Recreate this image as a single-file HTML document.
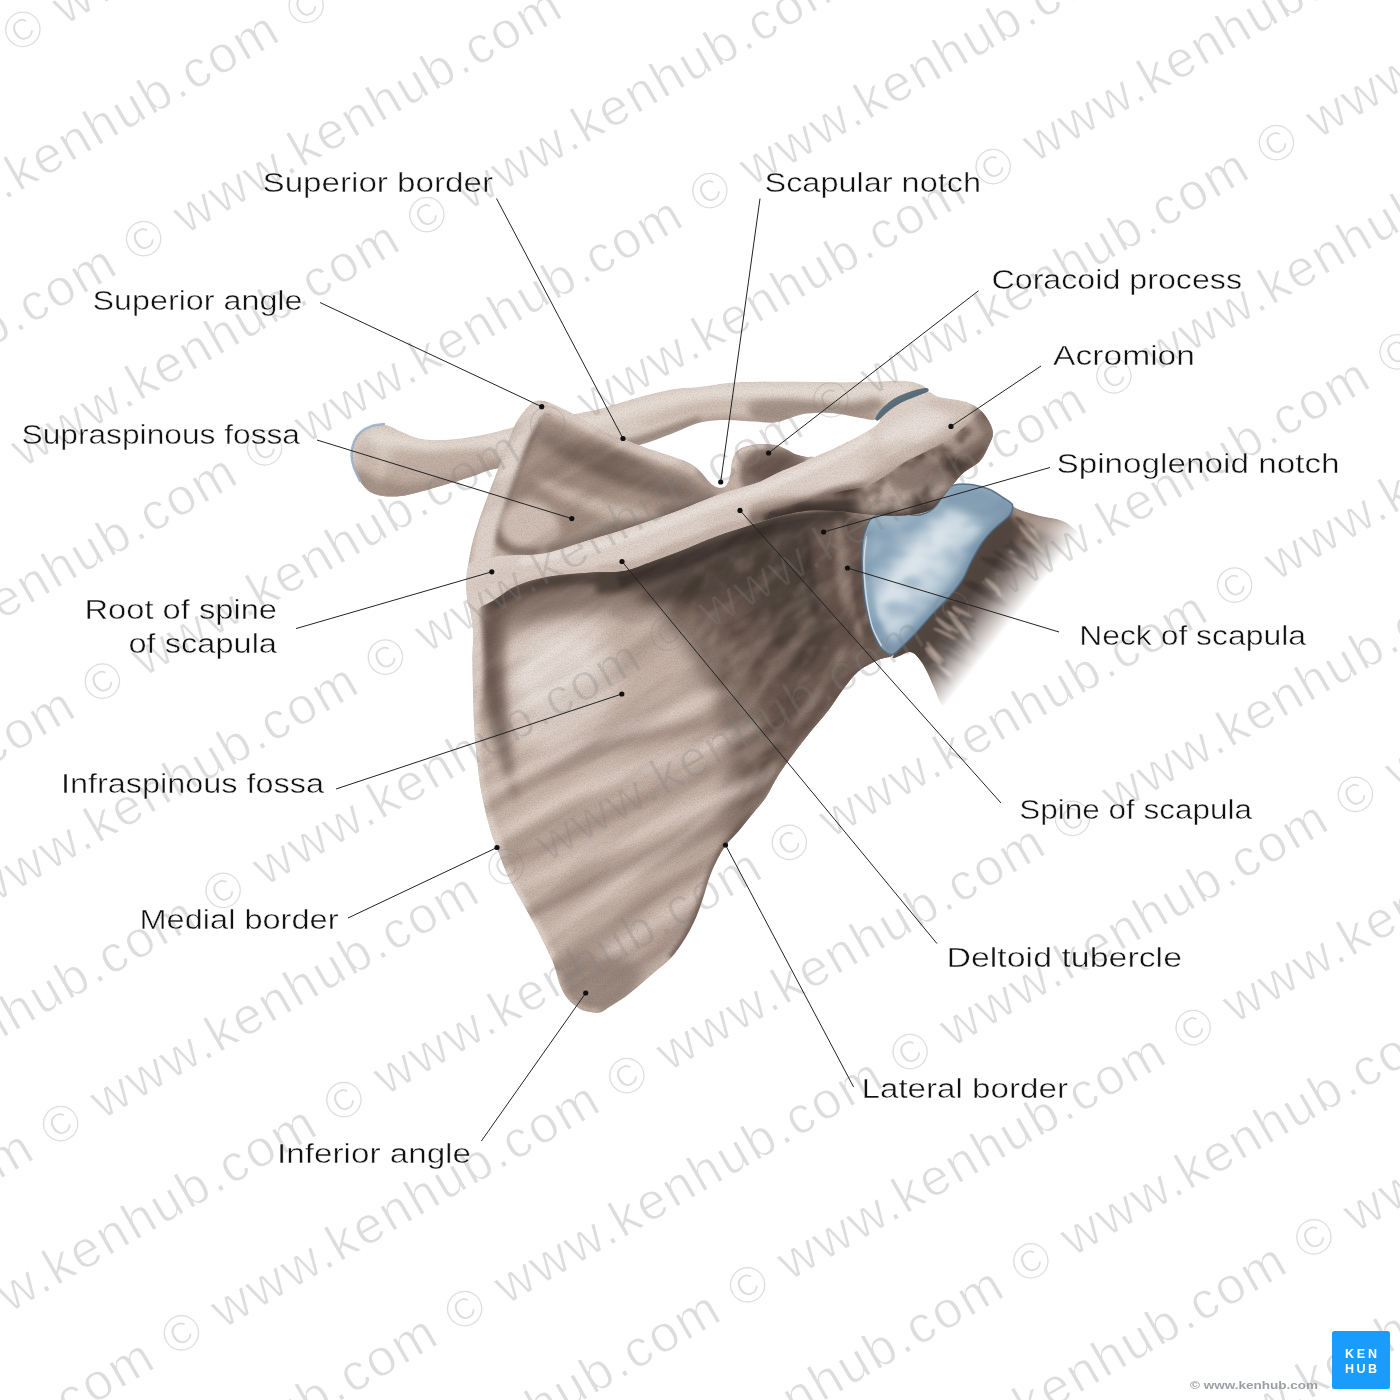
<!DOCTYPE html>
<html><head><meta charset="utf-8"><title>Scapula</title>
<style>html,body{margin:0;padding:0;background:#fff;}svg{display:block}</style></head>
<body><svg width="1400" height="1400" viewBox="0 0 1400 1400">
<rect width="1400" height="1400" fill="#fff"/>

<defs><filter id="b0_4" x="-50%" y="-50%" width="200%" height="200%"><feGaussianBlur stdDeviation="0.4"/></filter><filter id="b0_5" x="-50%" y="-50%" width="200%" height="200%"><feGaussianBlur stdDeviation="0.5"/></filter><filter id="b1" x="-50%" y="-50%" width="200%" height="200%"><feGaussianBlur stdDeviation="1.0"/></filter><filter id="b10" x="-50%" y="-50%" width="200%" height="200%"><feGaussianBlur stdDeviation="10.0"/></filter><filter id="b1_5" x="-50%" y="-50%" width="200%" height="200%"><feGaussianBlur stdDeviation="1.5"/></filter><filter id="b2" x="-50%" y="-50%" width="200%" height="200%"><feGaussianBlur stdDeviation="2.0"/></filter><filter id="b2_5" x="-50%" y="-50%" width="200%" height="200%"><feGaussianBlur stdDeviation="2.5"/></filter><filter id="b3" x="-50%" y="-50%" width="200%" height="200%"><feGaussianBlur stdDeviation="3.0"/></filter><filter id="b3_5" x="-50%" y="-50%" width="200%" height="200%"><feGaussianBlur stdDeviation="3.5"/></filter><filter id="b4" x="-50%" y="-50%" width="200%" height="200%"><feGaussianBlur stdDeviation="4.0"/></filter><filter id="b4_5" x="-50%" y="-50%" width="200%" height="200%"><feGaussianBlur stdDeviation="4.5"/></filter><filter id="b5" x="-50%" y="-50%" width="200%" height="200%"><feGaussianBlur stdDeviation="5.0"/></filter><filter id="b6" x="-50%" y="-50%" width="200%" height="200%"><feGaussianBlur stdDeviation="6.0"/></filter><filter id="b7" x="-50%" y="-50%" width="200%" height="200%"><feGaussianBlur stdDeviation="7.0"/></filter><filter id="b8" x="-50%" y="-50%" width="200%" height="200%"><feGaussianBlur stdDeviation="8.0"/></filter><filter id="b9" x="-50%" y="-50%" width="200%" height="200%"><feGaussianBlur stdDeviation="9.0"/></filter>
<filter id="grain" x="0" y="0" width="100%" height="100%" color-interpolation-filters="sRGB"><feTurbulence type="fractalNoise" baseFrequency="0.75" numOctaves="2" seed="7"/><feColorMatrix type="matrix" values="0 0 0 0 0.30  0 0 0 0 0.24  0 0 0 0 0.21  0.3 0 0 0 -0.115"/></filter>
<filter id="streakD" x="0" y="0" width="100%" height="100%" color-interpolation-filters="sRGB"><feTurbulence type="fractalNoise" baseFrequency="0.007 0.04" numOctaves="3" seed="11"/><feColorMatrix type="matrix" values="0 0 0 0 0.33  0 0 0 0 0.27  0 0 0 0 0.24  1.3 0 0 0 -0.58"/></filter>
<filter id="streakL" x="0" y="0" width="100%" height="100%" color-interpolation-filters="sRGB"><feTurbulence type="fractalNoise" baseFrequency="0.007 0.04" numOctaves="3" seed="23"/><feColorMatrix type="matrix" values="0 0 0 0 0.93  0 0 0 0 0.88  0 0 0 0 0.85  1.3 0 0 0 -0.58"/></filter>
<filter id="blotchD" x="0" y="0" width="100%" height="100%" color-interpolation-filters="sRGB"><feTurbulence type="fractalNoise" baseFrequency="0.032" numOctaves="3" seed="5"/><feColorMatrix type="matrix" values="0 0 0 0 0.30  0 0 0 0 0.25  0 0 0 0 0.22  3.2 0 0 0 -1.45"/><feGaussianBlur stdDeviation="0.8"/></filter>
<filter id="blotchL" x="0" y="0" width="100%" height="100%" color-interpolation-filters="sRGB"><feTurbulence type="fractalNoise" baseFrequency="0.04 0.07" numOctaves="3" seed="31"/><feColorMatrix type="matrix" values="0 0 0 0 0.72  0 0 0 0 0.65  0 0 0 0 0.61  3.0 0 0 0 -1.5"/><feGaussianBlur stdDeviation="1"/></filter>
<filter id="blotchB" x="0" y="0" width="100%" height="100%" color-interpolation-filters="sRGB"><feTurbulence type="fractalNoise" baseFrequency="0.03 0.05" numOctaves="2" seed="9"/><feColorMatrix type="matrix" values="0 0 0 0 0.50  0 0 0 0 0.60  0 0 0 0 0.69  2.5 0 0 0 -1.1"/><feGaussianBlur stdDeviation="1.5"/></filter>
<clipPath id="cAcrD"><path d="M770.0 512.0C774.7 509.3 796.8 503.3 808.0 500.0C819.2 496.7 827.3 494.3 837.0 492.0C846.7 489.7 858.0 488.7 866.0 486.0C874.0 483.3 878.5 480.0 885.0 476.0C891.5 472.0 898.3 466.0 905.0 462.0C911.7 458.0 917.5 456.0 925.0 452.0C932.5 448.0 941.7 443.7 950.0 438.0C958.3 432.3 968.7 423.0 975.0 418.0C981.3 413.0 984.3 405.5 988.0 408.0C991.7 410.5 996.7 426.3 997.0 433.0C997.3 439.7 992.8 443.3 990.0 448.0C987.2 452.7 984.5 456.8 980.0 461.0C975.5 465.2 967.8 468.7 963.0 473.0C958.2 477.3 955.3 481.8 951.0 487.0C946.7 492.2 940.5 500.2 937.0 504.0C933.5 507.8 933.5 508.3 930.0 510.0C926.5 511.7 921.7 513.0 915.7 514.0C909.7 515.0 902.3 515.7 894.0 515.7C885.7 515.7 875.2 514.8 865.7 514.0C856.2 513.2 846.5 511.6 837.0 511.0C827.5 510.4 818.1 509.7 808.6 510.5C799.1 511.3 786.4 515.8 780.0 516.0C773.6 516.2 765.3 514.7 770.0 512.0Z"/></clipPath>
<mask id="mDarkR" maskUnits="userSpaceOnUse" x="550" y="450" width="400" height="450"><path d="M660.0 590.0C663.3 579.2 693.3 568.3 710.0 560.0C726.7 551.7 735.0 545.3 760.0 540.0C785.0 534.7 840.8 518.0 860.0 528.0C879.2 538.0 870.8 579.7 875.0 600.0C879.2 620.3 889.2 635.8 885.0 650.0C880.8 664.2 860.8 672.5 850.0 685.0C839.2 697.5 829.2 711.7 820.0 725.0C810.8 738.3 803.3 752.5 795.0 765.0C786.7 777.5 777.8 791.7 770.0 800.0C762.2 808.3 753.3 816.7 748.0 815.0C742.7 813.3 739.3 800.8 738.0 790.0C736.7 779.2 743.0 768.3 740.0 750.0C737.0 731.7 728.3 700.8 720.0 680.0C711.7 659.2 700.0 640.0 690.0 625.0C680.0 610.0 656.7 600.8 660.0 590.0Z" fill="#fff" filter="url(#b10)"/></mask>
<filter id="blotchD2" x="0" y="0" width="100%" height="100%" color-interpolation-filters="sRGB"><feTurbulence type="fractalNoise" baseFrequency="0.02 0.055" numOctaves="3" seed="5"/><feColorMatrix type="matrix" values="0 0 0 0 0.30  0 0 0 0 0.25  0 0 0 0 0.22  3.0 0 0 0 -1.35"/><feGaussianBlur stdDeviation="1.5"/></filter>
<clipPath id="cAll"><path d="M540.7 400.5C543.2 400.6 546.0 401.4 549.0 402.5C552.0 403.6 553.4 404.3 558.6 406.8C563.8 409.3 572.9 413.6 580.0 417.5C587.1 421.4 593.8 426.4 601.0 430.0C608.2 433.6 614.7 435.7 623.0 439.0C631.3 442.3 642.7 446.6 651.0 449.6C659.3 452.6 667.0 454.7 673.0 456.8C679.0 458.9 682.8 460.0 687.0 462.0C691.2 464.0 694.8 466.3 698.0 469.0C701.2 471.7 703.7 475.4 706.0 478.0C708.3 480.6 710.0 482.9 712.0 484.5C714.0 486.1 716.0 487.1 718.0 487.5C720.0 487.9 722.3 487.9 724.0 487.0C725.7 486.1 726.9 484.2 728.0 482.0C729.1 479.8 729.9 476.8 730.5 474.0C731.1 471.2 731.1 467.7 731.5 465.0C731.9 462.3 732.1 460.3 733.0 458.0C733.9 455.7 734.8 453.0 737.0 451.0C739.2 449.0 742.4 447.4 746.4 446.2C750.4 445.0 755.9 444.2 760.7 444.0C765.5 443.8 770.8 444.0 775.0 444.8C779.2 445.6 782.1 447.4 785.7 449.0C789.3 450.6 792.9 453.3 796.4 454.6C799.9 455.9 803.4 456.4 807.0 457.0C810.6 457.6 809.2 455.8 818.0 458.0C826.8 460.2 846.3 466.3 860.0 470.0C873.7 473.7 886.7 476.3 900.0 480.0C913.3 483.7 932.5 485.3 940.0 492.0C947.5 498.7 946.7 507.8 945.0 520.0C943.3 532.2 935.5 549.7 930.0 565.0C924.5 580.3 917.3 599.2 912.0 612.0C906.7 624.8 901.2 634.8 898.0 642.0C894.8 649.2 895.3 652.3 893.0 655.0C890.7 657.7 886.8 657.0 884.0 658.0C881.2 659.0 880.2 658.8 876.0 661.0C871.8 663.2 864.0 666.4 858.6 671.0C853.2 675.6 848.6 682.1 843.6 688.6C838.6 695.1 834.0 702.9 828.6 710.0C823.2 717.1 816.8 723.8 811.0 731.0C805.2 738.2 799.3 745.8 794.0 753.0C788.7 760.2 783.7 766.7 779.0 774.0C774.3 781.3 770.2 790.7 766.0 797.0C761.8 803.3 758.6 806.3 754.0 812.0C749.4 817.7 743.3 825.5 738.6 831.0C733.9 836.5 729.6 840.2 726.0 845.0C722.4 849.8 719.7 854.8 717.0 860.0C714.3 865.2 712.2 870.2 710.0 876.0C707.8 881.8 706.2 888.5 704.0 895.0C701.8 901.5 700.0 908.0 697.0 915.0C694.0 922.0 690.3 929.8 686.0 937.0C681.7 944.2 676.2 952.2 671.0 958.0C665.8 963.8 660.2 967.5 655.0 972.0C649.8 976.5 645.0 980.8 640.0 985.0C635.0 989.2 629.8 993.5 625.0 997.0C620.2 1000.5 615.2 1003.4 611.0 1006.0C606.8 1008.6 603.5 1011.5 600.0 1012.5C596.5 1013.5 593.3 1012.6 590.0 1012.0C586.7 1011.4 583.7 1011.2 580.0 1009.0C576.3 1006.8 571.3 1003.0 568.0 999.0C564.7 995.0 562.3 990.7 560.0 985.0C557.7 979.3 556.5 971.7 554.0 965.0C551.5 958.3 548.8 952.8 545.0 945.0C541.2 937.2 535.7 926.7 531.0 918.0C526.3 909.3 521.0 900.3 517.0 893.0C513.0 885.7 510.3 881.5 507.0 874.0C503.7 866.5 499.8 855.5 497.0 848.0C494.2 840.5 492.7 838.7 490.0 829.0C487.3 819.3 483.3 803.2 481.0 790.0C478.7 776.8 477.2 761.2 476.0 750.0C474.8 738.8 474.5 733.0 474.0 723.0C473.5 713.0 473.2 700.7 473.0 690.0C472.8 679.3 472.5 669.0 472.5 659.0C472.5 649.0 473.6 639.7 473.0 630.0C472.4 620.3 469.9 610.5 469.0 601.0C468.1 591.5 467.2 581.8 467.5 573.0C467.8 564.2 469.2 556.3 471.0 548.0C472.8 539.7 475.3 531.3 478.0 523.0C480.7 514.7 483.7 507.0 487.0 498.0C490.3 489.0 494.4 478.5 498.0 469.0C501.6 459.5 505.6 448.7 508.6 441.0C511.6 433.3 513.1 428.3 516.0 423.0C518.9 417.7 523.0 412.5 526.0 409.0C529.0 405.5 531.5 403.4 534.0 402.0C536.5 400.6 538.2 400.4 540.7 400.5Z"/><path d="M356.0 436.0C358.3 432.8 362.7 431.2 366.0 429.5C369.3 427.8 373.0 426.3 376.0 425.5C379.0 424.7 381.3 424.2 384.0 424.5C386.7 424.8 389.3 425.9 392.0 427.0C394.7 428.1 395.5 429.1 400.0 431.0C404.5 432.9 412.8 437.0 419.0 438.5C425.2 440.0 431.0 439.9 437.0 440.0C443.0 440.1 449.0 439.6 455.0 439.0C461.0 438.4 467.0 437.5 473.0 436.5C479.0 435.5 484.8 434.4 491.0 433.0C497.2 431.6 501.8 430.2 510.0 428.0C518.2 425.8 528.3 422.5 540.0 420.0C551.7 417.5 569.8 414.9 580.0 413.0C590.2 411.1 591.7 411.1 601.0 408.6C610.3 406.1 624.3 401.2 636.0 398.0C647.7 394.8 660.3 391.4 671.0 389.5C681.7 387.6 689.2 388.0 700.0 386.8C710.8 385.6 720.9 383.2 735.7 382.3C750.5 381.4 771.1 381.4 789.0 381.4C806.9 381.4 828.1 382.3 843.0 382.3C857.9 382.3 868.3 381.6 878.6 381.4C888.9 381.2 898.2 380.6 905.0 381.0C911.8 381.4 916.0 382.6 919.6 384.0C923.2 385.4 927.7 388.0 926.8 389.5C925.9 391.0 919.1 391.2 914.0 393.0C908.9 394.8 901.4 397.2 896.4 400.0C891.4 402.8 887.4 406.8 884.0 410.0C880.6 413.2 879.8 418.2 876.0 419.5C872.2 420.8 866.5 418.8 861.0 418.0C855.5 417.2 849.0 415.4 843.0 414.5C837.0 413.6 831.0 412.8 825.0 412.7C819.0 412.6 812.3 412.9 807.0 413.6C801.7 414.3 798.3 415.5 793.0 417.0C787.7 418.5 781.5 421.7 775.0 422.5C768.5 423.3 762.0 422.0 754.0 421.6C746.0 421.2 736.0 419.9 727.0 420.0C718.0 420.1 709.3 420.2 700.0 422.5C690.7 424.8 680.5 430.4 671.0 434.0C661.5 437.6 654.8 440.5 643.0 444.0C631.2 447.5 617.2 452.0 600.0 455.0C582.8 458.0 557.7 459.7 540.0 462.0C522.3 464.3 505.2 466.7 494.0 469.0C482.8 471.3 482.5 473.0 473.0 476.0C463.5 479.0 449.0 483.7 437.0 487.0C425.0 490.3 411.2 494.8 401.0 496.0C390.8 497.2 382.5 496.5 376.0 494.5C369.5 492.5 365.8 489.1 362.0 484.0C358.2 478.9 354.7 469.8 353.0 464.0C351.3 458.2 351.5 453.7 352.0 449.0C352.5 444.3 353.7 439.2 356.0 436.0Z"/></clipPath>

<clipPath id="cBody"><path d="M540.7 400.5C543.2 400.6 546.0 401.4 549.0 402.5C552.0 403.6 553.4 404.3 558.6 406.8C563.8 409.3 572.9 413.6 580.0 417.5C587.1 421.4 593.8 426.4 601.0 430.0C608.2 433.6 614.7 435.7 623.0 439.0C631.3 442.3 642.7 446.6 651.0 449.6C659.3 452.6 667.0 454.7 673.0 456.8C679.0 458.9 682.8 460.0 687.0 462.0C691.2 464.0 694.8 466.3 698.0 469.0C701.2 471.7 703.7 475.4 706.0 478.0C708.3 480.6 710.0 482.9 712.0 484.5C714.0 486.1 716.0 487.1 718.0 487.5C720.0 487.9 722.3 487.9 724.0 487.0C725.7 486.1 726.9 484.2 728.0 482.0C729.1 479.8 729.9 476.8 730.5 474.0C731.1 471.2 731.1 467.7 731.5 465.0C731.9 462.3 732.1 460.3 733.0 458.0C733.9 455.7 734.8 453.0 737.0 451.0C739.2 449.0 742.4 447.4 746.4 446.2C750.4 445.0 755.9 444.2 760.7 444.0C765.5 443.8 770.8 444.0 775.0 444.8C779.2 445.6 782.1 447.4 785.7 449.0C789.3 450.6 792.9 453.3 796.4 454.6C799.9 455.9 803.4 456.4 807.0 457.0C810.6 457.6 809.2 455.8 818.0 458.0C826.8 460.2 846.3 466.3 860.0 470.0C873.7 473.7 886.7 476.3 900.0 480.0C913.3 483.7 932.5 485.3 940.0 492.0C947.5 498.7 946.7 507.8 945.0 520.0C943.3 532.2 935.5 549.7 930.0 565.0C924.5 580.3 917.3 599.2 912.0 612.0C906.7 624.8 901.2 634.8 898.0 642.0C894.8 649.2 895.3 652.3 893.0 655.0C890.7 657.7 886.8 657.0 884.0 658.0C881.2 659.0 880.2 658.8 876.0 661.0C871.8 663.2 864.0 666.4 858.6 671.0C853.2 675.6 848.6 682.1 843.6 688.6C838.6 695.1 834.0 702.9 828.6 710.0C823.2 717.1 816.8 723.8 811.0 731.0C805.2 738.2 799.3 745.8 794.0 753.0C788.7 760.2 783.7 766.7 779.0 774.0C774.3 781.3 770.2 790.7 766.0 797.0C761.8 803.3 758.6 806.3 754.0 812.0C749.4 817.7 743.3 825.5 738.6 831.0C733.9 836.5 729.6 840.2 726.0 845.0C722.4 849.8 719.7 854.8 717.0 860.0C714.3 865.2 712.2 870.2 710.0 876.0C707.8 881.8 706.2 888.5 704.0 895.0C701.8 901.5 700.0 908.0 697.0 915.0C694.0 922.0 690.3 929.8 686.0 937.0C681.7 944.2 676.2 952.2 671.0 958.0C665.8 963.8 660.2 967.5 655.0 972.0C649.8 976.5 645.0 980.8 640.0 985.0C635.0 989.2 629.8 993.5 625.0 997.0C620.2 1000.5 615.2 1003.4 611.0 1006.0C606.8 1008.6 603.5 1011.5 600.0 1012.5C596.5 1013.5 593.3 1012.6 590.0 1012.0C586.7 1011.4 583.7 1011.2 580.0 1009.0C576.3 1006.8 571.3 1003.0 568.0 999.0C564.7 995.0 562.3 990.7 560.0 985.0C557.7 979.3 556.5 971.7 554.0 965.0C551.5 958.3 548.8 952.8 545.0 945.0C541.2 937.2 535.7 926.7 531.0 918.0C526.3 909.3 521.0 900.3 517.0 893.0C513.0 885.7 510.3 881.5 507.0 874.0C503.7 866.5 499.8 855.5 497.0 848.0C494.2 840.5 492.7 838.7 490.0 829.0C487.3 819.3 483.3 803.2 481.0 790.0C478.7 776.8 477.2 761.2 476.0 750.0C474.8 738.8 474.5 733.0 474.0 723.0C473.5 713.0 473.2 700.7 473.0 690.0C472.8 679.3 472.5 669.0 472.5 659.0C472.5 649.0 473.6 639.7 473.0 630.0C472.4 620.3 469.9 610.5 469.0 601.0C468.1 591.5 467.2 581.8 467.5 573.0C467.8 564.2 469.2 556.3 471.0 548.0C472.8 539.7 475.3 531.3 478.0 523.0C480.7 514.7 483.7 507.0 487.0 498.0C490.3 489.0 494.4 478.5 498.0 469.0C501.6 459.5 505.6 448.7 508.6 441.0C511.6 433.3 513.1 428.3 516.0 423.0C518.9 417.7 523.0 412.5 526.0 409.0C529.0 405.5 531.5 403.4 534.0 402.0C536.5 400.6 538.2 400.4 540.7 400.5Z"/></clipPath>
<clipPath id="cSpine"><path d="M468.0 566.0C471.5 557.5 482.0 558.8 490.0 557.0C498.0 555.2 506.7 555.7 516.0 555.0C525.3 554.3 533.9 555.5 546.0 553.0C558.1 550.5 574.4 544.3 588.6 540.0C602.8 535.7 616.8 531.7 631.0 527.0C645.2 522.3 659.7 517.3 674.0 512.0C688.3 506.7 705.5 499.2 717.0 495.0C728.5 490.8 735.8 489.2 743.0 487.0C750.2 484.8 754.0 484.0 760.0 481.5C766.0 479.0 773.0 474.8 779.0 472.0C785.0 469.2 790.2 467.5 796.0 465.0C801.8 462.5 807.4 459.9 814.0 457.0C820.6 454.1 827.9 451.2 835.7 447.5C843.5 443.8 854.2 438.6 860.7 435.0C867.2 431.4 871.8 428.4 875.0 426.0C878.2 423.6 879.7 422.3 880.0 420.7C880.3 419.1 875.3 418.9 877.0 416.4C878.7 413.9 885.0 409.1 890.0 405.7C895.0 402.3 901.0 398.5 907.0 396.0C913.0 393.5 920.7 390.5 926.0 390.7C931.3 390.9 932.8 395.3 939.0 397.0C945.2 398.7 956.5 399.2 963.0 401.0C969.5 402.8 973.7 404.7 978.0 408.0C982.3 411.3 986.1 416.4 988.6 420.7C991.1 425.0 993.0 429.4 993.0 433.6C993.0 437.8 990.8 441.4 988.6 446.0C986.4 450.6 984.3 456.5 980.0 461.0C975.7 465.5 967.8 468.7 963.0 473.0C958.2 477.3 955.3 481.8 951.0 487.0C946.7 492.2 940.5 500.2 937.0 504.0C933.5 507.8 933.5 508.3 930.0 510.0C926.5 511.7 921.7 513.0 915.7 514.0C909.7 515.0 902.3 515.7 894.0 515.7C885.7 515.7 875.2 514.8 865.7 514.0C856.2 513.2 846.5 511.6 837.0 511.0C827.5 510.4 818.1 509.7 808.6 510.5C799.1 511.3 788.1 514.1 780.0 516.0C771.9 517.9 770.5 518.7 760.0 522.0C749.5 525.3 729.5 531.5 717.0 536.0C704.5 540.5 695.7 544.8 685.0 549.0C674.3 553.2 663.3 557.3 653.0 561.0C642.7 564.7 633.7 569.1 623.0 571.0C612.3 572.9 601.8 571.5 589.0 572.5C576.2 573.5 558.2 574.8 546.0 577.0C533.8 579.2 523.7 582.8 516.0 586.0C508.3 589.2 504.8 593.0 500.0 596.0C495.2 599.0 492.2 602.0 487.0 604.0C481.8 606.0 472.2 614.3 469.0 608.0C465.8 601.7 464.5 574.5 468.0 566.0Z"/></clipPath>
<clipPath id="cGlen"><path d="M863.0 540.0C863.8 534.0 865.5 529.7 867.0 526.0C868.5 522.3 868.9 520.2 872.0 518.0C875.1 515.8 880.2 513.7 885.7 513.0C891.2 512.3 899.3 513.7 905.0 514.0C910.7 514.3 915.3 515.8 920.0 515.0C924.7 514.2 929.7 511.5 933.0 509.0C936.3 506.5 937.9 503.0 940.0 500.0C942.1 497.0 943.4 493.5 945.7 491.0C948.0 488.5 949.8 486.1 954.0 485.0C958.2 483.9 965.2 483.8 971.0 484.5C976.8 485.2 983.2 486.8 988.6 489.0C994.0 491.2 999.7 495.5 1003.6 498.0C1007.5 500.5 1010.6 501.8 1012.0 504.0C1013.4 506.2 1012.7 508.8 1012.0 511.0C1011.3 513.2 1011.2 513.8 1008.0 517.0C1004.8 520.2 997.3 525.7 993.0 530.0C988.7 534.3 985.7 537.7 982.0 543.0C978.3 548.3 974.2 556.0 971.0 562.0C967.8 568.0 966.5 573.3 963.0 579.0C959.5 584.7 955.0 590.2 950.0 596.0C945.0 601.8 938.7 607.4 933.0 613.6C927.3 619.8 920.7 627.6 915.7 633.0C910.7 638.4 907.0 642.1 903.0 645.7C899.0 649.3 895.7 654.1 892.0 654.5C888.3 654.9 883.8 650.9 881.0 648.0C878.2 645.1 876.7 640.7 875.0 637.0C873.3 633.3 872.2 631.0 870.7 626.0C869.2 621.0 867.1 612.3 866.0 607.0C864.9 601.7 864.7 601.5 864.0 594.0C863.3 586.5 862.2 571.0 862.0 562.0C861.8 553.0 862.2 546.0 863.0 540.0Z"/></clipPath>
<clipPath id="cClav"><path d="M356.0 436.0C358.3 432.8 362.7 431.2 366.0 429.5C369.3 427.8 373.0 426.3 376.0 425.5C379.0 424.7 381.3 424.2 384.0 424.5C386.7 424.8 389.3 425.9 392.0 427.0C394.7 428.1 395.5 429.1 400.0 431.0C404.5 432.9 412.8 437.0 419.0 438.5C425.2 440.0 431.0 439.9 437.0 440.0C443.0 440.1 449.0 439.6 455.0 439.0C461.0 438.4 467.0 437.5 473.0 436.5C479.0 435.5 484.8 434.4 491.0 433.0C497.2 431.6 501.8 430.2 510.0 428.0C518.2 425.8 528.3 422.5 540.0 420.0C551.7 417.5 569.8 414.9 580.0 413.0C590.2 411.1 591.7 411.1 601.0 408.6C610.3 406.1 624.3 401.2 636.0 398.0C647.7 394.8 660.3 391.4 671.0 389.5C681.7 387.6 689.2 388.0 700.0 386.8C710.8 385.6 720.9 383.2 735.7 382.3C750.5 381.4 771.1 381.4 789.0 381.4C806.9 381.4 828.1 382.3 843.0 382.3C857.9 382.3 868.3 381.6 878.6 381.4C888.9 381.2 898.2 380.6 905.0 381.0C911.8 381.4 916.0 382.6 919.6 384.0C923.2 385.4 927.7 388.0 926.8 389.5C925.9 391.0 919.1 391.2 914.0 393.0C908.9 394.8 901.4 397.2 896.4 400.0C891.4 402.8 887.4 406.8 884.0 410.0C880.6 413.2 879.8 418.2 876.0 419.5C872.2 420.8 866.5 418.8 861.0 418.0C855.5 417.2 849.0 415.4 843.0 414.5C837.0 413.6 831.0 412.8 825.0 412.7C819.0 412.6 812.3 412.9 807.0 413.6C801.7 414.3 798.3 415.5 793.0 417.0C787.7 418.5 781.5 421.7 775.0 422.5C768.5 423.3 762.0 422.0 754.0 421.6C746.0 421.2 736.0 419.9 727.0 420.0C718.0 420.1 709.3 420.2 700.0 422.5C690.7 424.8 680.5 430.4 671.0 434.0C661.5 437.6 654.8 440.5 643.0 444.0C631.2 447.5 617.2 452.0 600.0 455.0C582.8 458.0 557.7 459.7 540.0 462.0C522.3 464.3 505.2 466.7 494.0 469.0C482.8 471.3 482.5 473.0 473.0 476.0C463.5 479.0 449.0 483.7 437.0 487.0C425.0 490.3 411.2 494.8 401.0 496.0C390.8 497.2 382.5 496.5 376.0 494.5C369.5 492.5 365.8 489.1 362.0 484.0C358.2 478.9 354.7 469.8 353.0 464.0C351.3 458.2 351.5 453.7 352.0 449.0C352.5 444.3 353.7 439.2 356.0 436.0Z"/></clipPath>
<clipPath id="cStub"><path d="M1005.0 501.0C1008.5 497.7 1008.5 503.5 1011.0 505.0C1013.5 506.5 1015.2 508.2 1020.0 510.0C1024.8 511.8 1033.3 514.3 1040.0 516.0C1046.7 517.7 1054.7 518.2 1060.0 520.0C1065.3 521.8 1067.7 523.3 1072.0 527.0C1076.3 530.7 1083.7 536.2 1086.0 542.0C1088.3 547.8 1089.3 553.7 1086.0 562.0C1082.7 570.3 1072.7 583.0 1066.0 592.0C1059.3 601.0 1053.0 607.7 1046.0 616.0C1039.0 624.3 1031.0 634.3 1024.0 642.0C1017.0 649.7 1011.0 655.3 1004.0 662.0C997.0 668.7 989.0 676.0 982.0 682.0C975.0 688.0 968.3 694.0 962.0 698.0C955.7 702.0 948.7 707.7 944.0 706.0C939.3 704.3 936.7 693.3 934.0 688.0C931.3 682.7 930.3 678.7 928.0 674.0C925.7 669.3 923.0 663.7 920.0 660.0C917.0 656.3 914.5 652.7 910.0 652.0C905.5 651.3 889.7 663.0 893.0 656.0C896.3 649.0 918.2 625.2 930.0 610.0C941.8 594.8 954.0 579.2 964.0 565.0C974.0 550.8 983.2 535.7 990.0 525.0C996.8 514.3 1001.5 504.3 1005.0 501.0Z"/></clipPath>
<linearGradient id="gStub" gradientUnits="userSpaceOnUse" x1="955" y1="580" x2="1010" y2="623">
 <stop offset="0" stop-color="#fff" stop-opacity="1"/><stop offset="0.3" stop-color="#fff" stop-opacity="1"/><stop offset="0.55" stop-color="#fff" stop-opacity="0.8"/><stop offset="0.8" stop-color="#fff" stop-opacity="0.35"/><stop offset="1" stop-color="#fff" stop-opacity="0"/></linearGradient>
<mask id="mStub"><rect x="800" y="400" width="400" height="400" fill="url(#gStub)"/></mask>
<linearGradient id="gGlen" gradientUnits="userSpaceOnUse" x1="880" y1="520" x2="990" y2="600">
 <stop offset="0" stop-color="#8ea6b8"/><stop offset="0.45" stop-color="#b7c7d3"/><stop offset="1" stop-color="#7f9aae"/></linearGradient>
<filter id="thin" x="-5%" y="-5%" width="110%" height="110%"><feMorphology operator="erode" radius="0.6"/></filter><filter id="curve" x="300" y="350" width="850" height="720" filterUnits="userSpaceOnUse" color-interpolation-filters="sRGB"><feComponentTransfer><feFuncR type="table" tableValues="0 0.14 0.33 0.56 0.80 1"/><feFuncG type="table" tableValues="0 0.14 0.33 0.56 0.80 1"/><feFuncB type="table" tableValues="0 0.14 0.33 0.56 0.80 1"/></feComponentTransfer></filter></defs>

<g filter="url(#curve)"><g mask="url(#mStub)"><g clip-path="url(#cStub)">
<path d="M1005.0 501.0C1008.5 497.7 1008.5 503.5 1011.0 505.0C1013.5 506.5 1015.2 508.2 1020.0 510.0C1024.8 511.8 1033.3 514.3 1040.0 516.0C1046.7 517.7 1054.7 518.2 1060.0 520.0C1065.3 521.8 1067.7 523.3 1072.0 527.0C1076.3 530.7 1083.7 536.2 1086.0 542.0C1088.3 547.8 1089.3 553.7 1086.0 562.0C1082.7 570.3 1072.7 583.0 1066.0 592.0C1059.3 601.0 1053.0 607.7 1046.0 616.0C1039.0 624.3 1031.0 634.3 1024.0 642.0C1017.0 649.7 1011.0 655.3 1004.0 662.0C997.0 668.7 989.0 676.0 982.0 682.0C975.0 688.0 968.3 694.0 962.0 698.0C955.7 702.0 948.7 707.7 944.0 706.0C939.3 704.3 936.7 693.3 934.0 688.0C931.3 682.7 930.3 678.7 928.0 674.0C925.7 669.3 923.0 663.7 920.0 660.0C917.0 656.3 914.5 652.7 910.0 652.0C905.5 651.3 889.7 663.0 893.0 656.0C896.3 649.0 918.2 625.2 930.0 610.0C941.8 594.8 954.0 579.2 964.0 565.0C974.0 550.8 983.2 535.7 990.0 525.0C996.8 514.3 1001.5 504.3 1005.0 501.0Z" fill="#7c6d65" opacity="1.00"/>
<path d="M893.0 656.0C893.5 645.5 916.5 627.0 928.0 612.0C939.5 597.0 951.3 581.0 962.0 566.0C972.7 551.0 983.7 531.0 992.0 522.0C1000.3 513.0 1007.3 510.7 1012.0 512.0C1016.7 513.3 1022.8 518.7 1020.0 530.0C1017.2 541.3 1004.2 563.7 995.0 580.0C985.8 596.3 974.2 613.3 965.0 628.0C955.8 642.7 946.7 660.2 940.0 668.0C933.3 675.8 932.8 677.0 925.0 675.0C917.2 673.0 892.5 666.5 893.0 656.0Z" fill="#61544e" filter="url(#b6)" opacity="0.90"/>
<path d="M1008.0 503.0C1011.0 501.0 1030.0 510.5 1040.0 514.0C1050.0 517.5 1061.7 519.7 1068.0 524.0C1074.3 528.3 1080.7 538.0 1078.0 540.0C1075.3 542.0 1061.3 538.3 1052.0 536.0C1042.7 533.7 1029.3 531.5 1022.0 526.0C1014.7 520.5 1005.0 505.0 1008.0 503.0Z" fill="#ab9b93" filter="url(#b3)" opacity="0.95"/>
<path d="M945.5 610.9L946.2 611.8L947.3 612.6L948.6 613.4L950.1 614.2L951.7 615.0L953.4 615.9L955.1 616.8L956.8 617.6L958.5 618.4L960.1 619.2L961.6 620.0L963.3 620.8L965.0 621.6L966.8 622.5L968.6 623.3L970.3 624.1L971.9 624.7L973.3 625.3L974.6 625.7L975.7 625.7L975.7 625.7L975.1 624.7L974.1 623.9L972.8 623.0L971.4 622.0L969.8 621.0L968.1 620.0L966.4 619.0L964.7 618.0L963.0 617.1L961.5 616.3L959.9 615.6L958.1 614.8L956.3 614.1L954.5 613.3L952.7 612.7L951.0 612.1L949.4 611.5L947.9 611.1L946.6 610.9L945.5 610.9Z" fill="#c6b7ae" filter="url(#b1)" opacity="0.60"/>
<path d="M963.2 581.8L963.4 583.0L964.0 583.9L964.7 584.7L965.7 585.6L966.7 586.4L967.9 587.3L969.1 588.1L970.4 588.9L971.7 589.7L973.1 590.4L974.5 591.0L976.1 591.7L977.7 592.3L979.5 592.9L981.3 593.5L983.0 594.0L984.6 594.4L986.2 594.7L987.5 594.7L988.8 594.2L988.8 594.2L988.3 592.9L987.3 592.0L986.1 591.0L984.7 590.1L983.2 589.1L981.6 588.2L980.0 587.3L978.4 586.5L977.0 585.7L975.6 585.1L974.4 584.4L973.0 583.8L971.7 583.3L970.3 582.7L969.0 582.2L967.7 581.8L966.5 581.5L965.4 581.3L964.3 581.3L963.2 581.8Z" fill="#4d423d" filter="url(#b1)" opacity="0.60"/>
<path d="M925.1 641.8L924.9 643.2L925.4 644.5L926.0 645.9L926.9 647.4L927.8 648.9L928.9 650.5L930.0 652.0L931.1 653.5L932.2 654.9L933.3 656.3L934.4 657.6L935.5 659.0L936.8 660.4L938.1 661.8L939.4 663.2L940.7 664.5L942.0 665.7L943.2 666.6L944.4 667.4L945.9 667.5L945.9 667.5L946.1 666.1L945.8 664.8L945.2 663.3L944.5 661.7L943.6 660.1L942.6 658.4L941.5 656.8L940.5 655.2L939.4 653.6L938.3 652.2L937.1 650.9L935.9 649.5L934.6 648.1L933.2 646.8L931.8 645.5L930.4 644.3L929.0 643.3L927.8 642.4L926.5 641.8L925.1 641.8Z" fill="#4d423d" filter="url(#b1)" opacity="0.60"/>
<path d="M930.6 664.2L930.7 665.4L931.1 666.2L931.7 667.0L932.5 667.7L933.4 668.5L934.4 669.2L935.4 670.0L936.5 670.7L937.6 671.3L938.7 671.9L939.9 672.6L941.2 673.2L942.7 673.9L944.2 674.5L945.8 675.1L947.3 675.6L948.8 676.1L950.1 676.3L951.4 676.4L952.6 676.0L952.6 676.0L952.3 674.7L951.5 673.8L950.5 672.8L949.3 671.9L948.0 670.9L946.6 669.9L945.3 669.0L943.9 668.2L942.6 667.4L941.4 666.8L940.3 666.2L939.1 665.7L938.0 665.1L936.8 664.7L935.6 664.3L934.5 664.0L933.5 663.8L932.5 663.6L931.6 663.7L930.6 664.2Z" fill="#c6b7ae" filter="url(#b1)" opacity="0.60"/>
<path d="M939.2 639.6L939.8 640.5L940.8 641.3L941.9 642.1L943.3 643.0L944.7 643.9L946.3 644.8L947.8 645.8L949.4 646.8L950.8 647.7L952.2 648.6L953.6 649.6L955.1 650.7L956.7 651.9L958.3 653.2L959.9 654.4L961.5 655.6L963.0 656.6L964.3 657.5L965.5 658.2L966.7 658.5L966.7 658.5L966.2 657.4L965.4 656.3L964.3 655.1L963.0 653.8L961.6 652.4L960.1 651.0L958.6 649.6L957.1 648.3L955.5 647.1L954.1 646.0L952.6 645.0L951.0 644.1L949.3 643.2L947.6 642.4L945.9 641.6L944.3 640.9L942.8 640.3L941.5 639.9L940.3 639.6L939.2 639.6Z" fill="#4d423d" filter="url(#b1)" opacity="0.60"/>
<path d="M944.2 637.6L944.6 638.6L945.3 639.4L946.3 640.3L947.5 641.3L948.7 642.2L950.0 643.2L951.4 644.2L952.7 645.1L954.1 646.0L955.3 646.8L956.5 647.6L957.8 648.4L959.2 649.2L960.6 650.0L962.0 650.8L963.3 651.6L964.6 652.2L965.8 652.7L966.8 653.0L967.9 652.9L967.9 652.9L967.6 651.9L966.9 651.0L966.0 650.1L965.0 649.1L963.8 648.1L962.6 647.1L961.3 646.1L960.0 645.1L958.7 644.2L957.5 643.4L956.2 642.6L954.8 641.8L953.4 640.9L951.9 640.2L950.4 639.4L949.0 638.8L947.6 638.2L946.4 637.7L945.3 637.4L944.2 637.6Z" fill="#4d423d" filter="url(#b1)" opacity="0.60"/>
<path d="M1009.3 550.8L1009.2 552.0L1009.6 553.1L1010.1 554.2L1010.9 555.4L1011.7 556.6L1012.7 557.8L1013.6 559.0L1014.7 560.2L1015.7 561.2L1016.7 562.2L1017.7 563.0L1018.9 563.7L1020.0 564.4L1021.2 565.1L1022.3 565.6L1023.5 566.1L1024.5 566.4L1025.5 566.6L1026.4 566.7L1027.5 566.3L1027.5 566.3L1027.5 565.2L1027.0 564.3L1026.4 563.5L1025.6 562.7L1024.8 561.8L1023.9 561.0L1023.0 560.2L1022.1 559.4L1021.2 558.6L1020.3 557.9L1019.4 557.2L1018.4 556.3L1017.3 555.4L1016.1 554.4L1015.0 553.5L1013.8 552.6L1012.7 551.8L1011.6 551.2L1010.5 550.7L1009.3 550.8Z" fill="#c6b7ae" filter="url(#b1)" opacity="0.60"/>
<path d="M959.8 630.6L960.0 631.6L960.6 632.3L961.4 633.0L962.3 633.6L963.3 634.3L964.3 634.9L965.3 635.5L966.2 636.2L967.1 636.7L967.9 637.3L968.6 637.8L969.4 638.5L970.3 639.2L971.2 640.0L972.1 640.7L973.1 641.4L973.9 642.1L974.8 642.6L975.7 642.9L976.7 642.9L976.7 642.9L976.8 641.9L976.6 641.0L976.1 640.1L975.6 639.1L975.0 638.1L974.2 637.1L973.4 636.1L972.5 635.1L971.6 634.2L970.6 633.5L969.6 632.8L968.5 632.2L967.3 631.6L966.1 631.2L964.9 630.8L963.7 630.5L962.6 630.3L961.6 630.2L960.7 630.2L959.8 630.6Z" fill="#4d423d" filter="url(#b1)" opacity="0.60"/>
<path d="M925.6 662.0L926.0 663.4L926.9 664.6L928.2 665.9L929.6 667.2L931.2 668.6L932.9 670.0L934.6 671.3L936.2 672.7L937.8 674.0L939.2 675.1L940.5 676.3L942.0 677.6L943.4 678.9L944.9 680.2L946.5 681.5L947.9 682.8L949.3 683.8L950.7 684.8L951.9 685.4L953.3 685.6L953.3 685.6L953.2 684.2L952.6 682.9L951.8 681.5L950.8 680.1L949.7 678.5L948.4 676.9L947.0 675.3L945.6 673.8L944.1 672.3L942.7 671.0L941.1 669.7L939.4 668.5L937.5 667.2L935.6 666.1L933.7 665.0L931.9 664.0L930.1 663.1L928.5 662.4L927.0 662.0L925.6 662.0Z" fill="#4d423d" filter="url(#b1)" opacity="0.60"/>
<path d="M984.7 578.3L984.8 579.6L985.4 580.8L986.3 582.0L987.3 583.3L988.5 584.6L989.7 585.9L990.9 587.3L992.1 588.5L993.2 589.7L994.2 590.8L995.1 591.8L996.1 592.9L997.0 594.1L998.0 595.2L999.0 596.3L1000.0 597.4L1001.0 598.3L1002.0 599.1L1002.9 599.7L1004.1 599.9L1004.1 599.9L1004.3 598.7L1004.1 597.6L1003.8 596.5L1003.2 595.2L1002.6 593.9L1001.9 592.5L1001.0 591.1L1000.1 589.7L999.2 588.4L998.1 587.2L997.0 586.0L995.7 584.8L994.3 583.6L992.9 582.5L991.4 581.4L989.9 580.4L988.5 579.5L987.2 578.8L986.0 578.3L984.7 578.3Z" fill="#c6b7ae" filter="url(#b1)" opacity="0.60"/>
<path d="M928.7 659.4L928.8 660.7L929.5 661.9L930.4 663.1L931.4 664.5L932.6 666.0L933.8 667.5L935.1 669.0L936.3 670.5L937.4 671.9L938.5 673.2L939.5 674.5L940.5 676.0L941.6 677.5L942.7 679.1L943.9 680.6L945.0 682.1L946.0 683.4L947.0 684.6L948.0 685.5L949.1 686.0L949.1 686.0L949.2 684.8L948.9 683.5L948.3 682.1L947.7 680.5L946.9 678.8L946.0 677.1L945.0 675.3L944.0 673.6L943.0 672.0L941.9 670.5L940.7 669.1L939.4 667.7L938.0 666.2L936.6 664.9L935.1 663.5L933.7 662.3L932.3 661.2L931.0 660.3L929.9 659.7L928.7 659.4Z" fill="#4d423d" filter="url(#b1)" opacity="0.60"/>
<path d="M980.6 557.7L980.9 558.8L981.5 559.6L982.4 560.4L983.3 561.1L984.4 561.8L985.5 562.6L986.8 563.3L988.0 564.0L989.2 564.7L990.5 565.4L991.8 566.1L993.3 566.9L995.0 567.8L996.7 568.7L998.4 569.6L1000.2 570.4L1001.8 571.1L1003.4 571.6L1004.8 571.9L1006.1 571.7L1006.1 571.7L1005.7 570.3L1004.9 569.2L1003.7 568.1L1002.4 566.9L1000.9 565.7L999.3 564.4L997.7 563.3L996.1 562.2L994.6 561.2L993.2 560.4L991.8 559.7L990.4 559.1L989.0 558.5L987.6 558.0L986.3 557.6L985.0 557.3L983.8 557.1L982.7 557.0L981.7 557.1L980.6 557.7Z" fill="#4d423d" filter="url(#b1)" opacity="0.60"/>
<path d="M926.2 641.4L926.0 642.5L926.2 643.4L926.5 644.5L927.0 645.7L927.6 646.9L928.3 648.2L929.0 649.5L929.9 650.8L930.8 652.0L931.7 653.1L932.8 654.3L933.9 655.4L935.2 656.6L936.6 657.8L938.0 658.9L939.3 659.9L940.7 660.8L941.9 661.5L943.0 662.0L944.2 662.0L944.2 662.0L944.1 660.8L943.6 659.7L942.8 658.5L941.8 657.3L940.7 656.0L939.6 654.6L938.5 653.3L937.4 652.1L936.3 650.9L935.4 649.9L934.6 648.9L933.7 647.8L932.7 646.8L931.8 645.7L930.9 644.7L930.0 643.7L929.1 642.8L928.2 642.1L927.3 641.5L926.2 641.4Z" fill="#c6b7ae" filter="url(#b1)" opacity="0.60"/>
<path d="M1021.7 539.7L1022.2 541.2L1023.2 542.3L1024.4 543.5L1025.9 544.7L1027.5 546.0L1029.2 547.3L1031.0 548.5L1032.8 549.8L1034.6 550.9L1036.2 552.0L1038.0 553.0L1039.8 554.2L1041.8 555.3L1043.9 556.4L1045.9 557.5L1047.9 558.5L1049.8 559.3L1051.5 560.0L1053.1 560.4L1054.6 560.2L1054.6 560.2L1054.2 558.7L1053.2 557.5L1051.8 556.1L1050.3 554.7L1048.6 553.3L1046.8 551.9L1044.9 550.5L1043.0 549.2L1041.2 547.9L1039.5 546.8L1037.7 545.8L1035.9 544.7L1033.9 543.7L1032.0 542.7L1030.0 541.8L1028.1 540.9L1026.3 540.2L1024.7 539.7L1023.2 539.4L1021.7 539.7Z" fill="#4d423d" filter="url(#b1)" opacity="0.60"/>
<path d="M1015.2 517.1L1015.3 518.1L1015.7 518.9L1016.2 519.7L1016.9 520.5L1017.7 521.3L1018.5 522.1L1019.5 522.8L1020.4 523.6L1021.4 524.3L1022.5 524.9L1023.5 525.5L1024.7 526.1L1026.0 526.7L1027.3 527.2L1028.6 527.7L1029.9 528.2L1031.2 528.5L1032.3 528.8L1033.3 528.8L1034.4 528.4L1034.4 528.4L1034.1 527.4L1033.5 526.5L1032.6 525.7L1031.6 524.9L1030.5 524.1L1029.4 523.3L1028.2 522.5L1027.1 521.8L1026.0 521.1L1025.0 520.5L1024.1 520.0L1023.1 519.4L1022.1 518.9L1021.0 518.3L1020.0 517.9L1019.0 517.4L1018.0 517.1L1017.1 516.8L1016.2 516.8L1015.2 517.1Z" fill="#4d423d" filter="url(#b1)" opacity="0.60"/>
<path d="M935.6 617.4L935.7 618.7L936.3 619.8L937.1 621.0L938.2 622.3L939.3 623.6L940.6 624.9L941.9 626.2L943.2 627.4L944.6 628.5L945.8 629.4L947.2 630.3L948.5 631.0L949.9 631.7L951.4 632.3L952.8 632.8L954.1 633.2L955.4 633.6L956.6 633.7L957.6 633.8L958.7 633.3L958.7 633.3L958.4 632.2L957.7 631.3L956.9 630.5L955.9 629.7L954.8 628.9L953.6 628.1L952.4 627.3L951.2 626.5L950.0 625.7L948.9 625.0L947.8 624.2L946.5 623.2L945.1 622.3L943.7 621.2L942.2 620.3L940.8 619.3L939.4 618.5L938.1 617.8L936.8 617.3L935.6 617.4Z" fill="#c6b7ae" filter="url(#b1)" opacity="0.60"/>
<path d="M976.8 590.7L977.4 592.1L978.5 593.2L980.0 594.3L981.6 595.5L983.4 596.7L985.3 597.9L987.2 599.0L989.1 600.1L990.9 601.1L992.6 601.9L994.2 602.6L995.9 603.3L997.6 604.0L999.2 604.6L1000.9 605.1L1002.5 605.5L1003.9 605.8L1005.3 606.0L1006.5 606.0L1007.7 605.4L1007.7 605.4L1007.3 604.1L1006.5 603.2L1005.5 602.3L1004.2 601.4L1002.9 600.6L1001.4 599.7L999.9 598.8L998.3 598.0L996.7 597.2L995.2 596.4L993.6 595.7L991.7 594.8L989.7 594.0L987.7 593.1L985.6 592.3L983.6 591.6L981.7 591.0L979.9 590.5L978.3 590.3L976.8 590.7Z" fill="#4d423d" filter="url(#b1)" opacity="0.60"/>
<path d="M1003.0 545.0L1003.6 545.7L1004.5 546.3L1005.6 546.8L1006.9 547.4L1008.2 548.0L1009.7 548.5L1011.1 549.1L1012.5 549.7L1013.8 550.3L1015.1 550.9L1016.3 551.5L1017.6 552.3L1018.9 553.1L1020.3 554.0L1021.7 554.8L1023.0 555.6L1024.3 556.3L1025.5 556.9L1026.5 557.4L1027.5 557.4L1027.5 557.4L1027.2 556.5L1026.4 555.7L1025.5 554.7L1024.4 553.7L1023.2 552.7L1022.0 551.6L1020.6 550.6L1019.2 549.6L1017.9 548.8L1016.5 548.0L1015.1 547.4L1013.7 546.8L1012.1 546.3L1010.6 545.8L1009.0 545.5L1007.6 545.1L1006.2 544.9L1005.0 544.8L1003.9 544.7L1003.0 545.0Z" fill="#4d423d" filter="url(#b1)" opacity="0.60"/>
<path d="M933.1 628.2L933.5 628.9L934.1 629.5L934.8 630.0L935.7 630.5L936.6 631.1L937.7 631.7L938.7 632.2L939.9 632.8L941.0 633.3L942.2 633.9L943.5 634.5L944.9 635.2L946.5 635.9L948.1 636.6L949.8 637.4L951.4 638.1L953.0 638.7L954.4 639.1L955.6 639.5L956.7 639.4L956.7 639.4L956.1 638.5L955.2 637.7L953.9 636.8L952.6 635.9L951.1 634.9L949.5 634.0L947.9 633.1L946.4 632.3L944.9 631.5L943.6 630.9L942.4 630.3L941.2 629.8L940.0 629.3L938.8 628.9L937.7 628.6L936.6 628.3L935.6 628.1L934.7 627.9L933.9 627.9L933.1 628.2Z" fill="#c6b7ae" filter="url(#b1)" opacity="0.60"/>
<path d="M947.1 602.9L947.4 604.1L948.2 605.2L949.1 606.5L950.3 607.8L951.6 609.2L953.0 610.7L954.4 612.2L955.9 613.6L957.4 615.0L958.9 616.4L960.5 617.7L962.2 619.2L964.1 620.8L966.1 622.3L968.0 623.8L969.9 625.2L971.7 626.5L973.4 627.6L974.9 628.4L976.3 628.7L976.3 628.7L975.8 627.4L974.8 626.0L973.5 624.5L971.9 622.9L970.3 621.2L968.5 619.5L966.7 617.8L964.9 616.1L963.3 614.6L961.7 613.2L960.2 611.9L958.7 610.6L957.1 609.2L955.4 607.9L953.9 606.7L952.3 605.6L950.9 604.5L949.6 603.7L948.4 603.1L947.1 602.9Z" fill="#4d423d" filter="url(#b1)" opacity="0.60"/>
<path d="M949.3 604.5L949.6 605.7L950.2 607.0L951.1 608.5L952.2 610.2L953.3 611.9L954.5 613.7L955.8 615.5L957.1 617.3L958.4 619.0L959.6 620.6L960.8 622.2L962.2 623.9L963.6 625.6L965.0 627.3L966.5 629.0L967.9 630.6L969.2 632.0L970.5 633.3L971.6 634.3L972.7 634.9L972.7 634.9L972.5 633.6L971.8 632.3L970.9 630.8L969.8 629.1L968.6 627.4L967.3 625.6L966.0 623.7L964.7 621.9L963.4 620.2L962.2 618.6L961.0 617.0L959.7 615.4L958.3 613.7L956.9 611.9L955.4 610.3L954.1 608.7L952.8 607.3L951.5 606.0L950.4 605.0L949.3 604.5Z" fill="#4d423d" filter="url(#b1)" opacity="0.60"/>
<path d="M925.3 647.1L925.0 648.2L925.1 649.1L925.4 649.9L925.8 650.8L926.3 651.7L926.9 652.6L927.6 653.6L928.3 654.5L929.1 655.4L929.8 656.3L930.7 657.2L931.8 658.3L932.9 659.4L934.2 660.6L935.4 661.7L936.7 662.8L938.0 663.8L939.2 664.6L940.4 665.1L941.7 665.1L941.7 665.1L941.9 663.7L941.6 662.5L941.0 661.2L940.2 659.8L939.3 658.4L938.4 656.9L937.4 655.6L936.4 654.2L935.4 653.1L934.5 652.0L933.7 651.1L932.8 650.3L931.8 649.5L930.9 648.8L930.0 648.1L929.1 647.6L928.2 647.2L927.3 646.9L926.5 646.7L925.3 647.1Z" fill="#c6b7ae" filter="url(#b1)" opacity="0.60"/>
<path d="M967.9 580.6L968.2 582.0L969.0 583.1L970.1 584.2L971.4 585.4L972.8 586.6L974.4 587.8L976.0 588.9L977.6 590.0L979.3 590.9L980.8 591.7L982.5 592.4L984.1 593.0L985.9 593.5L987.6 593.9L989.3 594.2L990.9 594.4L992.4 594.5L993.8 594.5L995.0 594.3L996.1 593.6L996.1 593.6L995.5 592.4L994.6 591.6L993.4 590.9L992.1 590.2L990.7 589.5L989.2 588.8L987.7 588.1L986.1 587.5L984.7 586.9L983.4 586.3L982.0 585.6L980.5 584.9L978.8 584.1L977.1 583.2L975.4 582.4L973.7 581.7L972.1 581.0L970.6 580.5L969.3 580.3L967.9 580.6Z" fill="#4d423d" filter="url(#b1)" opacity="0.60"/>
<path d="M988.9 557.7L989.2 559.0L990.0 559.9L991.1 560.8L992.3 561.8L993.6 562.7L995.0 563.6L996.4 564.5L997.8 565.4L999.1 566.1L1000.4 566.8L1001.5 567.5L1002.8 568.1L1004.1 568.7L1005.4 569.3L1006.7 569.9L1007.9 570.3L1009.1 570.7L1010.2 571.0L1011.3 571.1L1012.4 570.6L1012.4 570.6L1012.3 569.4L1011.7 568.6L1011.0 567.7L1010.1 566.8L1009.1 565.9L1008.0 565.0L1006.8 564.1L1005.6 563.3L1004.3 562.5L1003.1 561.8L1001.8 561.1L1000.4 560.4L998.9 559.8L997.3 559.1L995.7 558.6L994.1 558.0L992.7 557.6L991.3 557.4L990.1 557.3L988.9 557.7Z" fill="#4d423d" filter="url(#b1)" opacity="0.60"/>
<path d="M947.7 611.3L947.8 612.9L948.4 614.5L949.3 616.2L950.4 618.0L951.7 620.0L953.1 622.0L954.4 623.9L955.8 625.8L957.1 627.6L958.3 629.1L959.5 630.6L960.7 632.1L962.0 633.7L963.3 635.1L964.6 636.5L965.8 637.8L967.1 639.0L968.2 640.0L969.4 640.7L970.7 640.9L970.7 640.9L970.9 639.6L970.6 638.3L970.0 636.8L969.3 635.3L968.4 633.7L967.4 632.1L966.4 630.4L965.3 628.7L964.1 627.1L963.0 625.5L961.7 624.0L960.3 622.3L958.7 620.5L957.1 618.7L955.4 617.0L953.8 615.4L952.2 613.9L950.7 612.6L949.3 611.7L947.7 611.3Z" fill="#c6b7ae" filter="url(#b1)" opacity="0.60"/>
<path d="M992.9 550.7L993.2 551.6L993.8 552.4L994.6 553.1L995.5 553.9L996.6 554.7L997.7 555.6L998.8 556.4L1000.1 557.3L1001.3 558.1L1002.5 559.0L1003.9 559.9L1005.4 560.9L1007.1 562.0L1008.8 563.1L1010.6 564.3L1012.3 565.3L1014.0 566.3L1015.5 567.1L1016.9 567.6L1018.1 567.7L1018.1 567.7L1017.6 566.6L1016.7 565.5L1015.5 564.3L1014.0 563.0L1012.5 561.6L1010.9 560.3L1009.3 559.0L1007.6 557.8L1006.1 556.6L1004.8 555.7L1003.5 554.8L1002.1 554.0L1000.8 553.3L999.5 552.6L998.2 552.0L997.0 551.4L995.9 551.0L994.8 550.7L993.9 550.5L992.9 550.7Z" fill="#4d423d" filter="url(#b1)" opacity="0.60"/>
<path d="M950.3 629.9L950.8 631.6L951.9 633.1L953.3 634.8L955.0 636.6L956.9 638.4L958.8 640.2L960.9 642.0L962.9 643.7L964.8 645.3L966.6 646.7L968.3 647.9L970.1 649.1L971.9 650.2L973.7 651.3L975.5 652.3L977.2 653.1L978.8 653.8L980.3 654.4L981.7 654.7L983.1 654.4L983.1 654.4L982.8 653.0L982.1 651.8L981.0 650.6L979.8 649.3L978.4 648.0L976.9 646.7L975.3 645.4L973.6 644.1L972.0 642.8L970.4 641.6L968.6 640.3L966.6 638.9L964.5 637.4L962.3 635.8L960.1 634.3L957.9 632.9L955.7 631.7L953.8 630.7L952.0 629.9L950.3 629.9Z" fill="#4d423d" filter="url(#b1)" opacity="0.60"/>
<path d="M951.5 606.1L951.5 607.3L951.8 608.2L952.3 609.1L953.0 610.0L953.8 610.9L954.8 611.8L955.8 612.7L956.8 613.6L957.9 614.4L959.0 615.1L960.2 615.7L961.5 616.3L962.9 616.8L964.3 617.3L965.8 617.7L967.2 618.0L968.5 618.3L969.7 618.4L970.8 618.3L971.9 617.7L971.9 617.7L971.6 616.4L970.9 615.6L970.0 614.8L969.0 613.9L967.8 613.1L966.6 612.4L965.4 611.6L964.2 610.9L963.0 610.3L962.1 609.7L961.1 609.2L960.1 608.6L959.0 608.0L957.9 607.4L956.8 606.9L955.7 606.4L954.6 606.0L953.6 605.8L952.6 605.7L951.5 606.1Z" fill="#c6b7ae" filter="url(#b1)" opacity="0.60"/>
<path d="M1009.6 540.2L1009.3 541.5L1009.6 542.8L1010.1 544.3L1010.8 545.8L1011.6 547.4L1012.6 549.0L1013.6 550.7L1014.7 552.3L1015.9 553.8L1017.2 555.2L1018.5 556.6L1020.0 557.9L1021.6 559.2L1023.3 560.5L1025.0 561.6L1026.7 562.7L1028.3 563.6L1029.8 564.4L1031.1 564.8L1032.6 564.7L1032.6 564.7L1032.4 563.3L1031.7 562.0L1030.7 560.7L1029.5 559.3L1028.2 557.8L1026.9 556.4L1025.5 554.9L1024.1 553.5L1022.8 552.2L1021.7 551.0L1020.6 549.8L1019.4 548.5L1018.2 547.1L1016.9 545.8L1015.7 544.4L1014.5 543.2L1013.3 542.0L1012.1 541.1L1011.0 540.4L1009.6 540.2Z" fill="#4d423d" filter="url(#b1)" opacity="0.60"/>
<path d="M1009.1 553.5L1009.6 554.7L1010.5 555.7L1011.6 556.6L1013.0 557.5L1014.4 558.4L1016.0 559.3L1017.5 560.2L1019.0 561.0L1020.5 561.8L1021.7 562.5L1023.0 563.2L1024.3 564.0L1025.7 564.7L1027.1 565.5L1028.5 566.2L1029.9 566.9L1031.2 567.5L1032.5 567.9L1033.6 568.1L1034.9 567.8L1034.9 567.8L1034.7 566.5L1034.1 565.5L1033.3 564.5L1032.4 563.4L1031.2 562.4L1030.0 561.3L1028.7 560.2L1027.3 559.2L1025.9 558.3L1024.6 557.4L1023.1 556.7L1021.5 556.0L1019.8 555.3L1018.1 554.6L1016.4 554.1L1014.7 553.6L1013.1 553.3L1011.6 553.0L1010.3 553.0L1009.1 553.5Z" fill="#4d423d" filter="url(#b1)" opacity="0.60"/>
<path d="M1022.2 519.3L1022.3 520.3L1022.9 521.2L1023.7 522.2L1024.5 523.2L1025.5 524.3L1026.5 525.4L1027.6 526.6L1028.6 527.7L1029.5 528.8L1030.4 529.8L1031.2 530.9L1032.2 532.1L1033.1 533.4L1034.1 534.8L1035.0 536.1L1036.0 537.4L1036.9 538.5L1037.8 539.6L1038.6 540.4L1039.5 540.8L1039.5 540.8L1039.5 539.8L1039.2 538.7L1038.7 537.4L1038.1 536.1L1037.4 534.6L1036.6 533.1L1035.8 531.7L1034.9 530.2L1034.0 528.9L1033.1 527.7L1032.1 526.5L1031.0 525.4L1029.8 524.3L1028.6 523.2L1027.4 522.2L1026.2 521.4L1025.1 520.6L1024.1 519.9L1023.1 519.4L1022.2 519.3Z" fill="#c6b7ae" filter="url(#b1)" opacity="0.60"/>
<path d="M943.1 649.6L943.7 651.0L944.9 652.2L946.3 653.5L948.0 654.9L949.9 656.3L951.9 657.8L953.9 659.2L955.9 660.5L957.8 661.6L959.6 662.6L961.4 663.5L963.2 664.4L965.0 665.1L966.9 665.8L968.7 666.4L970.4 666.9L972.0 667.3L973.5 667.5L974.8 667.6L976.0 667.2L976.0 667.2L975.5 666.0L974.5 665.1L973.3 664.2L971.9 663.3L970.4 662.4L968.8 661.5L967.1 660.6L965.4 659.7L963.7 658.8L962.1 658.0L960.4 657.1L958.5 656.0L956.4 654.9L954.3 653.8L952.2 652.7L950.1 651.6L948.1 650.7L946.2 650.0L944.6 649.5L943.1 649.6Z" fill="#4d423d" filter="url(#b1)" opacity="0.60"/>
<path d="M957.2 613.9L957.6 614.9L958.3 615.7L959.3 616.5L960.4 617.2L961.7 618.0L963.0 618.7L964.3 619.4L965.5 620.0L966.7 620.6L967.7 621.1L968.6 621.5L969.6 621.9L970.6 622.2L971.5 622.5L972.4 622.8L973.3 623.0L974.1 623.2L974.9 623.2L975.6 623.1L976.4 622.6L976.4 622.6L976.3 621.7L976.0 621.1L975.5 620.5L974.9 619.9L974.2 619.3L973.4 618.7L972.5 618.2L971.6 617.6L970.7 617.1L969.7 616.7L968.6 616.2L967.4 615.7L966.0 615.2L964.6 614.8L963.2 614.3L961.8 614.0L960.5 613.7L959.3 613.5L958.2 613.5L957.2 613.9Z" fill="#4d423d" filter="url(#b1)" opacity="0.60"/>
<path d="M1018.8 525.6L1019.0 526.8L1019.6 528.0L1020.5 529.4L1021.5 530.9L1022.7 532.4L1023.9 534.0L1025.2 535.6L1026.6 537.3L1027.9 538.8L1029.3 540.3L1030.7 541.9L1032.3 543.5L1034.0 545.2L1035.7 546.9L1037.5 548.6L1039.2 550.2L1040.8 551.7L1042.3 552.9L1043.7 553.9L1045.0 554.3L1045.0 554.3L1044.7 553.0L1043.8 551.5L1042.7 549.9L1041.3 548.2L1039.8 546.4L1038.3 544.5L1036.7 542.6L1035.1 540.8L1033.6 539.2L1032.3 537.6L1030.9 536.2L1029.5 534.7L1028.0 533.1L1026.6 531.7L1025.1 530.2L1023.7 528.9L1022.4 527.7L1021.1 526.7L1020.0 525.9L1018.8 525.6Z" fill="#c6b7ae" filter="url(#b1)" opacity="0.60"/>
</g></g>
<g clip-path="url(#cClav)">
<path d="M356.0 436.0C358.3 432.8 362.7 431.2 366.0 429.5C369.3 427.8 373.0 426.3 376.0 425.5C379.0 424.7 381.3 424.2 384.0 424.5C386.7 424.8 389.3 425.9 392.0 427.0C394.7 428.1 395.5 429.1 400.0 431.0C404.5 432.9 412.8 437.0 419.0 438.5C425.2 440.0 431.0 439.9 437.0 440.0C443.0 440.1 449.0 439.6 455.0 439.0C461.0 438.4 467.0 437.5 473.0 436.5C479.0 435.5 484.8 434.4 491.0 433.0C497.2 431.6 501.8 430.2 510.0 428.0C518.2 425.8 528.3 422.5 540.0 420.0C551.7 417.5 569.8 414.9 580.0 413.0C590.2 411.1 591.7 411.1 601.0 408.6C610.3 406.1 624.3 401.2 636.0 398.0C647.7 394.8 660.3 391.4 671.0 389.5C681.7 387.6 689.2 388.0 700.0 386.8C710.8 385.6 720.9 383.2 735.7 382.3C750.5 381.4 771.1 381.4 789.0 381.4C806.9 381.4 828.1 382.3 843.0 382.3C857.9 382.3 868.3 381.6 878.6 381.4C888.9 381.2 898.2 380.6 905.0 381.0C911.8 381.4 916.0 382.6 919.6 384.0C923.2 385.4 927.7 388.0 926.8 389.5C925.9 391.0 919.1 391.2 914.0 393.0C908.9 394.8 901.4 397.2 896.4 400.0C891.4 402.8 887.4 406.8 884.0 410.0C880.6 413.2 879.8 418.2 876.0 419.5C872.2 420.8 866.5 418.8 861.0 418.0C855.5 417.2 849.0 415.4 843.0 414.5C837.0 413.6 831.0 412.8 825.0 412.7C819.0 412.6 812.3 412.9 807.0 413.6C801.7 414.3 798.3 415.5 793.0 417.0C787.7 418.5 781.5 421.7 775.0 422.5C768.5 423.3 762.0 422.0 754.0 421.6C746.0 421.2 736.0 419.9 727.0 420.0C718.0 420.1 709.3 420.2 700.0 422.5C690.7 424.8 680.5 430.4 671.0 434.0C661.5 437.6 654.8 440.5 643.0 444.0C631.2 447.5 617.2 452.0 600.0 455.0C582.8 458.0 557.7 459.7 540.0 462.0C522.3 464.3 505.2 466.7 494.0 469.0C482.8 471.3 482.5 473.0 473.0 476.0C463.5 479.0 449.0 483.7 437.0 487.0C425.0 490.3 411.2 494.8 401.0 496.0C390.8 497.2 382.5 496.5 376.0 494.5C369.5 492.5 365.8 489.1 362.0 484.0C358.2 478.9 354.7 469.8 353.0 464.0C351.3 458.2 351.5 453.7 352.0 449.0C352.5 444.3 353.7 439.2 356.0 436.0Z" fill="#dbd0c7" opacity="1.00"/>
<path d="M350.0 470.0C354.3 474.0 367.5 489.7 376.0 494.0C384.5 498.3 390.8 497.2 401.0 496.0C411.2 494.8 425.0 490.3 437.0 487.0C449.0 483.7 463.5 479.0 473.0 476.0C482.5 473.0 482.8 471.3 494.0 469.0C505.2 466.7 522.3 464.3 540.0 462.0C557.7 459.7 582.8 458.0 600.0 455.0C617.2 452.0 631.2 447.5 643.0 444.0C654.8 440.5 661.5 437.3 671.0 434.0C680.5 430.7 690.7 426.1 700.0 424.0C709.3 421.9 718.0 421.7 727.0 421.5C736.0 421.3 746.0 422.6 754.0 423.0C762.0 423.4 768.5 424.8 775.0 424.0C781.5 423.2 787.7 420.0 793.0 418.5C798.3 417.0 801.7 415.8 807.0 415.0C812.3 414.2 819.0 413.8 825.0 414.0C831.0 414.2 837.0 415.1 843.0 416.0C849.0 416.9 854.8 418.7 861.0 419.5C867.2 420.3 876.8 420.8 880.0 421.0" fill="none" stroke="#ab9b93" stroke-width="13.0" stroke-linecap="butt" filter="url(#b4)" opacity="0.80"/>
<path d="M370.0 436.0C375.0 436.8 388.8 439.0 400.0 441.0C411.2 443.0 424.8 447.3 437.0 448.0C449.2 448.7 460.8 446.8 473.0 445.0C485.2 443.2 488.7 441.3 510.0 437.0C531.3 432.7 580.0 423.8 601.0 419.0C622.0 414.2 624.3 411.3 636.0 408.0C647.7 404.7 659.2 401.4 671.0 399.0C682.8 396.6 695.0 394.8 707.0 393.5C719.0 392.2 731.0 391.9 743.0 391.5C755.0 391.1 767.2 391.0 779.0 391.0C790.8 391.0 802.2 391.4 814.0 391.5C825.8 391.6 838.0 391.8 850.0 391.5C862.0 391.2 875.7 390.4 886.0 390.0C896.3 389.6 907.7 389.2 912.0 389.0" fill="none" stroke="#ebe2dc" stroke-width="10.0" stroke-linecap="butt" filter="url(#b4)" opacity="0.95"/>
<path d="M750.0 402.0C754.7 399.2 770.8 399.3 780.0 399.0C789.2 398.7 795.8 399.2 805.0 400.0C814.2 400.8 826.2 403.7 835.0 404.0C843.8 404.3 851.3 403.0 858.0 402.0C864.7 401.0 870.7 397.2 875.0 398.0C879.3 398.8 886.2 404.2 884.0 407.0C881.8 409.8 871.0 414.3 862.0 415.0C853.0 415.7 840.3 411.5 830.0 411.0C819.7 410.5 809.2 410.5 800.0 412.0C790.8 413.5 783.0 419.3 775.0 420.0C767.0 420.7 756.2 419.0 752.0 416.0C747.8 413.0 745.3 404.8 750.0 402.0Z" fill="#8e7f77" filter="url(#b3)" opacity="0.60"/>
<path d="M410.0 462.0C420.0 458.3 430.0 459.0 440.0 458.0C450.0 457.0 461.7 455.7 470.0 456.0C478.3 456.3 490.0 456.3 490.0 460.0C490.0 463.7 480.0 473.0 470.0 478.0C460.0 483.0 442.5 487.0 430.0 490.0C417.5 493.0 403.3 497.7 395.0 496.0C386.7 494.3 377.5 485.7 380.0 480.0C382.5 474.3 400.0 465.7 410.0 462.0Z" fill="#ab9b93" filter="url(#b4)" opacity="0.70"/>
<path d="M356.0 450.0C356.8 444.3 364.3 442.7 368.0 444.0C371.7 445.3 376.3 451.7 378.0 458.0C379.7 464.3 380.5 478.7 378.0 482.0C375.5 485.3 366.7 483.3 363.0 478.0C359.3 472.7 355.2 455.7 356.0 450.0Z" fill="#c6b7ae" filter="url(#b4)" opacity="0.70"/>
<path d="M356.0 474.0C359.3 476.7 368.5 487.0 376.0 490.0C383.5 493.0 390.8 493.2 401.0 492.0C411.2 490.8 425.0 486.3 437.0 483.0C449.0 479.7 462.5 475.2 473.0 472.0C483.5 468.8 495.5 465.3 500.0 464.0" fill="none" stroke="#ab9b93" stroke-width="12.0" stroke-linecap="butt" filter="url(#b3_5)" opacity="0.70"/>
<path d="M400.0 455.0C405.0 451.3 419.2 452.8 430.0 452.0C440.8 451.2 455.0 450.0 465.0 450.0C475.0 450.0 489.2 449.3 490.0 452.0C490.8 454.7 480.0 462.3 470.0 466.0C460.0 469.7 441.7 472.7 430.0 474.0C418.3 475.3 405.0 477.2 400.0 474.0C395.0 470.8 395.0 458.7 400.0 455.0Z" fill="#c6b7ae" filter="url(#b4)" opacity="0.70"/>
<path d="M640.0 425.0L642.8 425.4L646.1 425.0L649.9 424.2L654.1 423.2L658.6 422.1L663.2 420.8L667.9 419.6L672.6 418.4L677.0 417.4L681.1 416.4L685.1 415.6L689.0 414.9L693.0 414.1L696.9 413.4L700.9 412.7L704.8 412.0L708.7 411.4L712.6 410.7L716.5 410.1L720.4 409.6L724.5 409.0L728.8 408.6L733.4 408.2L738.0 407.8L742.5 407.4L746.9 407.0L750.9 406.5L754.6 406.0L757.6 405.3L760.0 404.0L760.0 404.0L757.6 402.7L754.6 402.1L750.9 401.6L746.9 401.1L742.5 400.8L737.9 400.5L733.1 400.3L728.4 400.2L723.9 400.3L719.6 400.4L715.5 400.7L711.4 401.1L707.3 401.6L703.2 402.2L699.1 402.8L695.1 403.6L691.0 404.4L687.0 405.4L682.9 406.4L678.9 407.6L674.6 408.9L670.1 410.4L665.5 412.1L660.9 413.9L656.4 415.8L652.2 417.7L648.2 419.5L644.8 421.3L642.0 423.0L640.0 425.0Z" fill="#c6b7ae" filter="url(#b3)" opacity="0.60"/>
<path d="M360.0 478.0C366.8 480.0 388.2 489.3 401.0 490.0C413.8 490.7 425.0 485.2 437.0 482.0C449.0 478.8 463.5 474.0 473.0 471.0C482.5 468.0 490.5 465.2 494.0 464.0" fill="none" stroke="#ab9b93" stroke-width="10.0" stroke-linecap="butt" filter="url(#b3)" opacity="0.70"/>
<path d="M395.0 450.0C402.5 447.5 417.5 454.7 430.0 455.0C442.5 455.3 459.2 452.0 470.0 452.0C480.8 452.0 493.3 452.0 495.0 455.0C496.7 458.0 489.2 465.8 480.0 470.0C470.8 474.2 452.5 477.7 440.0 480.0C427.5 482.3 414.2 485.7 405.0 484.0C395.8 482.3 386.7 475.7 385.0 470.0C383.3 464.3 387.5 452.5 395.0 450.0Z" fill="#c6b7ae" filter="url(#b4)" opacity="0.80"/>
<path d="M600.0 450.0C607.2 448.2 631.2 442.5 643.0 439.0C654.8 435.5 661.5 432.3 671.0 429.0C680.5 425.7 695.2 420.7 700.0 419.0" fill="none" stroke="#8e7f77" stroke-width="6.0" stroke-linecap="butt" filter="url(#b2_5)" opacity="0.60"/>
</g>
<path d="M384.0 424.0C382.0 424.3 375.8 424.7 372.0 426.0C368.2 427.3 364.0 429.3 361.0 432.0C358.0 434.7 355.6 438.2 354.0 442.0C352.4 445.8 351.5 450.7 351.5 455.0C351.5 459.3 352.6 463.7 354.0 468.0C355.4 472.3 359.0 478.8 360.0 481.0" fill="none" stroke="#aab8ca" stroke-width="2.4" stroke-linecap="round" opacity="0.95"/>
<g clip-path="url(#cBody)">
<path d="M540.7 400.5C543.2 400.6 546.0 401.4 549.0 402.5C552.0 403.6 553.4 404.3 558.6 406.8C563.8 409.3 572.9 413.6 580.0 417.5C587.1 421.4 593.8 426.4 601.0 430.0C608.2 433.6 614.7 435.7 623.0 439.0C631.3 442.3 642.7 446.6 651.0 449.6C659.3 452.6 667.0 454.7 673.0 456.8C679.0 458.9 682.8 460.0 687.0 462.0C691.2 464.0 694.8 466.3 698.0 469.0C701.2 471.7 703.7 475.4 706.0 478.0C708.3 480.6 710.0 482.9 712.0 484.5C714.0 486.1 716.0 487.1 718.0 487.5C720.0 487.9 722.3 487.9 724.0 487.0C725.7 486.1 726.9 484.2 728.0 482.0C729.1 479.8 729.9 476.8 730.5 474.0C731.1 471.2 731.1 467.7 731.5 465.0C731.9 462.3 732.1 460.3 733.0 458.0C733.9 455.7 734.8 453.0 737.0 451.0C739.2 449.0 742.4 447.4 746.4 446.2C750.4 445.0 755.9 444.2 760.7 444.0C765.5 443.8 770.8 444.0 775.0 444.8C779.2 445.6 782.1 447.4 785.7 449.0C789.3 450.6 792.9 453.3 796.4 454.6C799.9 455.9 803.4 456.4 807.0 457.0C810.6 457.6 809.2 455.8 818.0 458.0C826.8 460.2 846.3 466.3 860.0 470.0C873.7 473.7 886.7 476.3 900.0 480.0C913.3 483.7 932.5 485.3 940.0 492.0C947.5 498.7 946.7 507.8 945.0 520.0C943.3 532.2 935.5 549.7 930.0 565.0C924.5 580.3 917.3 599.2 912.0 612.0C906.7 624.8 901.2 634.8 898.0 642.0C894.8 649.2 895.3 652.3 893.0 655.0C890.7 657.7 886.8 657.0 884.0 658.0C881.2 659.0 880.2 658.8 876.0 661.0C871.8 663.2 864.0 666.4 858.6 671.0C853.2 675.6 848.6 682.1 843.6 688.6C838.6 695.1 834.0 702.9 828.6 710.0C823.2 717.1 816.8 723.8 811.0 731.0C805.2 738.2 799.3 745.8 794.0 753.0C788.7 760.2 783.7 766.7 779.0 774.0C774.3 781.3 770.2 790.7 766.0 797.0C761.8 803.3 758.6 806.3 754.0 812.0C749.4 817.7 743.3 825.5 738.6 831.0C733.9 836.5 729.6 840.2 726.0 845.0C722.4 849.8 719.7 854.8 717.0 860.0C714.3 865.2 712.2 870.2 710.0 876.0C707.8 881.8 706.2 888.5 704.0 895.0C701.8 901.5 700.0 908.0 697.0 915.0C694.0 922.0 690.3 929.8 686.0 937.0C681.7 944.2 676.2 952.2 671.0 958.0C665.8 963.8 660.2 967.5 655.0 972.0C649.8 976.5 645.0 980.8 640.0 985.0C635.0 989.2 629.8 993.5 625.0 997.0C620.2 1000.5 615.2 1003.4 611.0 1006.0C606.8 1008.6 603.5 1011.5 600.0 1012.5C596.5 1013.5 593.3 1012.6 590.0 1012.0C586.7 1011.4 583.7 1011.2 580.0 1009.0C576.3 1006.8 571.3 1003.0 568.0 999.0C564.7 995.0 562.3 990.7 560.0 985.0C557.7 979.3 556.5 971.7 554.0 965.0C551.5 958.3 548.8 952.8 545.0 945.0C541.2 937.2 535.7 926.7 531.0 918.0C526.3 909.3 521.0 900.3 517.0 893.0C513.0 885.7 510.3 881.5 507.0 874.0C503.7 866.5 499.8 855.5 497.0 848.0C494.2 840.5 492.7 838.7 490.0 829.0C487.3 819.3 483.3 803.2 481.0 790.0C478.7 776.8 477.2 761.2 476.0 750.0C474.8 738.8 474.5 733.0 474.0 723.0C473.5 713.0 473.2 700.7 473.0 690.0C472.8 679.3 472.5 669.0 472.5 659.0C472.5 649.0 473.6 639.7 473.0 630.0C472.4 620.3 469.9 610.5 469.0 601.0C468.1 591.5 467.2 581.8 467.5 573.0C467.8 564.2 469.2 556.3 471.0 548.0C472.8 539.7 475.3 531.3 478.0 523.0C480.7 514.7 483.7 507.0 487.0 498.0C490.3 489.0 494.4 478.5 498.0 469.0C501.6 459.5 505.6 448.7 508.6 441.0C511.6 433.3 513.1 428.3 516.0 423.0C518.9 417.7 523.0 412.5 526.0 409.0C529.0 405.5 531.5 403.4 534.0 402.0C536.5 400.6 538.2 400.4 540.7 400.5Z" fill="#c8b9b0" opacity="1.00"/>
<path d="M536.0 416.0C544.7 412.7 557.7 423.0 570.0 428.0C582.3 433.0 596.7 440.3 610.0 446.0C623.3 451.7 636.7 456.7 650.0 462.0C663.3 467.3 679.0 473.0 690.0 478.0C701.0 483.0 714.3 487.5 716.0 492.0C717.7 496.5 709.3 500.3 700.0 505.0C690.7 509.7 673.3 515.2 660.0 520.0C646.7 524.8 634.2 529.3 620.0 534.0C605.8 538.7 588.3 544.3 575.0 548.0C561.7 551.7 550.8 555.3 540.0 556.0C529.2 556.7 517.5 556.3 510.0 552.0C502.5 547.7 496.2 540.3 495.0 530.0C493.8 519.7 499.2 503.7 503.0 490.0C506.8 476.3 512.5 460.3 518.0 448.0C523.5 435.7 527.3 419.3 536.0 416.0Z" fill="#a9998f" filter="url(#b3)" opacity="1.00"/>
<path d="M536.0 422.0C534.0 426.0 528.0 437.0 524.0 446.0C520.0 455.0 515.8 466.5 512.0 476.0C508.2 485.5 503.8 494.8 501.0 503.0C498.2 511.2 495.3 519.0 495.0 525.0C494.7 531.0 496.2 535.2 499.0 539.0C501.8 542.8 505.5 546.0 512.0 548.0C518.5 550.0 533.7 550.5 538.0 551.0" fill="none" stroke="#8e7f77" stroke-width="12.0" stroke-linecap="butt" filter="url(#b2_5)" opacity="0.95"/>
<path d="M532.0 430.0C530.2 433.7 524.7 444.0 521.0 452.0C517.3 460.0 513.3 469.5 510.0 478.0C506.7 486.5 502.5 498.8 501.0 503.0" fill="none" stroke="#776861" stroke-width="5.0" stroke-linecap="butt" filter="url(#b2_5)" opacity="0.50"/>
<path d="M508.0 508.0C512.8 503.3 522.7 499.5 530.0 500.0C537.3 500.5 547.0 505.7 552.0 511.0C557.0 516.3 561.7 526.2 560.0 532.0C558.3 537.8 549.7 543.8 542.0 546.0C534.3 548.2 520.8 548.0 514.0 545.0C507.2 542.0 502.0 534.2 501.0 528.0C500.0 521.8 503.2 512.7 508.0 508.0Z" fill="#d0c2ba" filter="url(#b3_5)" opacity="1.00"/>
<path d="M538.0 436.0L539.2 439.5L541.5 441.9L544.4 444.1L547.8 446.4L551.5 448.7L555.4 451.0L559.4 453.3L563.4 455.5L567.3 457.7L570.9 459.7L574.5 461.8L578.0 463.8L581.7 465.9L585.4 468.0L589.2 470.0L593.2 472.1L597.2 474.2L601.4 476.2L605.7 478.1L610.0 480.0L614.4 481.8L618.8 483.5L623.3 485.2L627.9 486.8L632.6 488.4L637.3 489.9L642.1 491.3L646.9 492.7L651.8 493.9L656.8 495.1L662.0 496.1L667.6 497.2L673.4 498.1L679.2 498.9L685.0 499.6L690.5 500.2L695.7 500.4L700.4 500.4L704.4 500.0L708.0 498.0L708.0 498.0L705.8 494.5L702.5 492.2L698.4 489.9L693.7 487.7L688.7 485.5L683.4 483.3L678.0 481.1L672.8 479.0L667.8 476.9L663.2 474.9L658.9 473.0L654.5 471.1L650.2 469.1L645.8 467.2L641.4 465.2L637.1 463.3L632.8 461.4L628.5 459.6L624.2 457.7L620.0 456.0L615.9 454.3L611.9 452.6L607.9 450.9L603.8 449.2L599.8 447.6L595.7 446.0L591.6 444.4L587.4 442.9L583.3 441.5L579.1 440.3L574.7 439.1L570.2 437.9L565.6 436.8L561.0 435.9L556.5 435.0L552.2 434.4L548.1 433.9L544.5 433.8L541.2 434.2L538.0 436.0Z" fill="#8e7f77" filter="url(#b5)" opacity="0.90"/>
<path d="M548.0 446.0L549.8 448.5L552.7 450.6L556.1 452.7L560.0 455.0L564.3 457.4L568.9 459.8L573.6 462.2L578.5 464.6L583.2 466.9L587.9 469.1L592.4 471.2L597.1 473.3L601.9 475.5L606.8 477.7L611.9 479.8L617.0 481.9L622.2 484.0L627.5 485.9L632.9 487.7L638.4 489.3L644.1 490.7L650.3 492.1L656.8 493.4L663.3 494.6L669.8 495.6L676.0 496.5L681.8 497.2L687.0 497.6L691.4 497.8L695.0 497.0L695.0 497.0L692.0 494.7L687.9 493.1L683.0 491.4L677.5 489.7L671.5 487.9L665.3 486.1L659.0 484.2L652.8 482.4L647.0 480.6L641.6 478.7L636.6 476.9L631.6 475.0L626.5 472.9L621.5 470.9L616.5 468.8L611.5 466.7L606.6 464.6L601.7 462.6L596.9 460.7L592.1 458.9L587.3 457.2L582.4 455.4L577.3 453.6L572.3 451.8L567.4 450.1L562.8 448.6L558.4 447.3L554.5 446.3L551.1 445.6L548.0 446.0Z" fill="#776861" filter="url(#b4)" opacity="0.45"/>
<path d="M549.7 557.8L552.8 556.6L556.9 555.0L561.7 553.2L567.2 551.1L573.1 549.3L579.3 547.6L585.5 546.0L591.5 544.4L597.1 542.9L602.1 541.6L606.6 540.4L610.9 539.4L615.1 538.4L619.1 537.5L623.0 536.5L626.9 535.6L630.7 534.6L634.6 533.5L638.6 532.4L642.6 531.1L646.7 529.7L650.7 528.3L654.8 526.8L658.8 525.3L662.8 523.8L666.8 522.2L670.8 520.5L674.7 518.9L678.5 517.2L682.3 515.5L686.3 513.7L690.5 511.8L694.7 509.8L699.0 507.7L703.2 505.6L707.1 503.5L710.7 501.5L713.8 499.5L716.4 497.6L718.0 495.0L718.0 495.0L715.1 494.1L711.9 494.3L708.2 494.8L704.2 495.7L699.8 496.6L695.3 497.8L690.8 499.0L686.2 500.2L681.8 501.4L677.7 502.5L673.6 503.6L669.6 504.8L665.5 506.0L661.5 507.2L657.4 508.5L653.4 509.8L649.3 511.0L645.3 512.3L641.3 513.6L637.4 514.9L633.5 516.2L629.8 517.4L626.0 518.5L622.3 519.7L618.5 521.0L614.7 522.2L610.7 523.6L606.6 525.1L602.3 526.7L597.9 528.4L593.0 530.4L587.5 532.7L581.8 535.1L575.8 537.6L569.9 540.2L564.1 542.5L558.6 544.3L553.7 545.9L549.5 547.2L546.3 548.2Z" fill="#8e7f77" filter="url(#b3)" opacity="1.00"/>
<path d="M590.0 541.0L593.3 541.1L597.4 540.4L602.2 539.5L607.5 538.3L613.2 536.9L619.2 535.4L625.1 533.9L630.8 532.4L636.2 530.9L641.1 529.5L645.6 528.2L650.0 526.8L654.2 525.4L658.3 524.0L662.3 522.6L666.3 521.2L670.1 519.8L673.9 518.4L677.6 516.9L681.3 515.4L685.0 513.9L688.9 512.3L692.8 510.6L696.7 508.8L700.5 507.1L704.0 505.4L707.2 503.8L710.0 502.2L712.4 500.7L714.0 499.0L714.0 499.0L711.6 498.8L708.9 499.3L705.8 500.1L702.3 501.0L698.5 502.2L694.6 503.4L690.6 504.7L686.5 506.0L682.6 507.3L678.7 508.6L675.0 509.8L671.2 511.1L667.4 512.4L663.6 513.7L659.7 515.1L655.7 516.5L651.6 518.0L647.5 519.4L643.2 521.0L638.9 522.5L634.1 524.2L628.9 526.0L623.3 527.9L617.5 529.9L611.8 531.8L606.2 533.8L601.1 535.7L596.5 537.4L592.7 539.1L590.0 541.0Z" fill="#776861" filter="url(#b2_5)" opacity="0.60"/>
<path d="M532.0 478.0L533.6 480.7L536.2 482.9L539.4 485.3L543.1 487.7L547.2 490.2L551.5 492.7L556.1 495.2L560.6 497.6L565.2 499.9L569.6 502.0L573.9 503.9L578.3 505.9L582.9 507.8L587.5 509.7L592.3 511.6L597.2 513.3L602.0 514.9L606.9 516.3L611.9 517.4L616.8 518.3L621.8 518.9L627.1 519.2L632.4 519.2L637.7 519.0L642.8 518.6L647.7 518.1L652.1 517.4L656.1 516.7L659.4 515.7L662.0 514.0L662.0 514.0L659.4 512.1L656.0 511.2L652.1 510.5L647.7 509.9L642.9 509.4L638.0 508.8L633.0 508.2L628.2 507.5L623.5 506.7L619.2 505.7L615.0 504.5L610.7 503.2L606.3 501.7L601.8 500.1L597.2 498.4L592.6 496.7L588.0 495.0L583.4 493.3L578.8 491.6L574.4 490.0L569.9 488.5L565.3 486.9L560.5 485.2L555.8 483.4L551.1 481.8L546.6 480.3L542.3 479.0L538.5 478.0L535.1 477.4L532.0 478.0Z" fill="#d0c2ba" filter="url(#b4)" opacity="0.90"/>
<path d="M590.0 452.0L591.6 453.5L593.7 454.4L596.3 455.3L599.2 456.1L602.3 456.9L605.6 457.8L609.0 458.6L612.4 459.5L615.8 460.4L619.0 461.3L622.3 462.4L626.0 463.7L630.0 465.1L634.2 466.5L638.3 468.0L642.3 469.4L646.1 470.6L649.5 471.6L652.4 472.2L655.0 472.0L655.0 472.0L653.3 470.1L650.8 468.4L647.8 466.6L644.3 464.7L640.5 462.8L636.5 460.8L632.4 459.0L628.4 457.3L624.6 455.9L621.0 454.7L617.6 453.7L614.0 452.9L610.4 452.2L606.8 451.7L603.3 451.3L600.0 451.1L597.0 451.0L594.3 451.0L592.0 451.2L590.0 452.0Z" fill="#776861" filter="url(#b3)" opacity="0.40"/>
<path d="M542.0 402.0C539.8 404.7 533.2 411.2 529.0 418.0C524.8 424.8 520.7 434.2 517.0 443.0C513.3 451.8 510.5 461.3 507.0 471.0C503.5 480.7 499.3 491.0 496.0 501.0C492.7 511.0 489.5 520.3 487.0 531.0C484.5 541.7 482.0 559.3 481.0 565.0" fill="none" stroke="#dfd3cc" stroke-width="19.0" stroke-linecap="butt" filter="url(#b2)" opacity="1.00"/>
<path d="M538.0 410.0C535.7 413.7 528.3 423.7 524.0 432.0C519.7 440.3 515.8 450.3 512.0 460.0C508.2 469.7 502.8 485.0 501.0 490.0" fill="none" stroke="#ebe2dc" stroke-width="6.0" stroke-linecap="butt" filter="url(#b3)" opacity="0.60"/>
<path d="M546.0 404.0C551.7 406.7 567.2 413.7 580.0 420.0C592.8 426.3 609.7 436.2 623.0 442.0C636.3 447.8 647.8 450.5 660.0 455.0C672.2 459.5 690.0 466.7 696.0 469.0" fill="none" stroke="#dfd3cc" stroke-width="11.0" stroke-linecap="butt" filter="url(#b2)" opacity="0.95"/>
<path d="M700.0 473.0C702.0 475.3 708.2 484.2 712.0 487.0C715.8 489.8 721.2 489.5 723.0 490.0" fill="none" stroke="#ab9b93" stroke-width="5.0" stroke-linecap="butt" filter="url(#b2)" opacity="0.80"/>
<path d="M731.0 467.0C732.0 460.2 734.4 454.5 737.0 451.0C739.6 447.5 742.4 447.4 746.4 446.2C750.4 445.0 755.9 444.2 760.7 444.0C765.5 443.8 770.8 444.0 775.0 444.8C779.2 445.6 782.1 447.4 785.7 449.0C789.3 450.6 791.0 453.1 796.4 454.6C801.8 456.1 817.4 455.4 818.0 458.0C818.6 460.6 809.7 465.3 800.0 470.0C790.3 474.7 771.5 482.3 760.0 486.0C748.5 489.7 735.8 495.2 731.0 492.0C726.2 488.8 730.0 473.8 731.0 467.0Z" fill="#c6b7ae" opacity="1.00"/>
<path d="M742.0 464.0C744.3 457.8 751.3 452.5 758.0 450.0C764.7 447.5 774.0 447.7 782.0 449.0C790.0 450.3 803.3 454.2 806.0 458.0C808.7 461.8 804.0 468.2 798.0 472.0C792.0 475.8 779.0 478.5 770.0 481.0C761.0 483.5 748.7 489.8 744.0 487.0C739.3 484.2 739.7 470.2 742.0 464.0Z" fill="#8e7f77" filter="url(#b2_5)" opacity="1.00"/>
<path d="M748.0 470.0C748.0 466.0 757.7 459.3 764.0 457.0C770.3 454.7 780.3 454.8 786.0 456.0C791.7 457.2 798.3 461.0 798.0 464.0C797.7 467.0 789.7 471.2 784.0 474.0C778.3 476.8 770.0 481.7 764.0 481.0C758.0 480.3 748.0 474.0 748.0 470.0Z" fill="#776861" filter="url(#b3)" opacity="0.70"/>
<path d="M752.0 468.0C753.0 464.7 762.3 459.7 768.0 458.0C773.7 456.3 784.0 456.0 786.0 458.0C788.0 460.0 784.0 466.7 780.0 470.0C776.0 473.3 766.7 478.3 762.0 478.0C757.3 477.7 751.0 471.3 752.0 468.0Z" fill="#776861" filter="url(#b2_5)" opacity="0.60"/>
<path d="M733.0 470.0C733.7 467.5 734.5 458.7 737.0 455.0C739.5 451.3 743.3 449.5 748.0 448.0C752.7 446.5 762.2 446.3 765.0 446.0" fill="none" stroke="#dfd3cc" stroke-width="4.5" stroke-linecap="butt" filter="url(#b1_5)" opacity="0.90"/>
<path d="M625.0 585.0C631.3 575.2 677.5 565.2 700.0 556.0C722.5 546.8 731.7 536.0 760.0 530.0C788.3 524.0 849.2 508.3 870.0 520.0C890.8 531.7 880.8 577.5 885.0 600.0C889.2 622.5 900.0 640.0 895.0 655.0C890.0 670.0 866.7 676.7 855.0 690.0C843.3 703.3 835.0 720.8 825.0 735.0C815.0 749.2 805.0 761.7 795.0 775.0C785.0 788.3 774.5 804.2 765.0 815.0C755.5 825.8 745.2 839.2 738.0 840.0C730.8 840.8 723.7 833.3 722.0 820.0C720.3 806.7 730.8 783.3 728.0 760.0C725.2 736.7 716.0 704.2 705.0 680.0C694.0 655.8 675.3 630.8 662.0 615.0C648.7 599.2 618.7 594.8 625.0 585.0Z" fill="#8e7f77" filter="url(#b9)" opacity="1.00"/>
<path d="M670.0 578.0C678.0 563.0 727.7 544.7 760.0 535.0C792.3 525.3 846.0 509.2 864.0 520.0C882.0 530.8 865.3 578.3 868.0 600.0C870.7 621.7 883.3 635.3 880.0 650.0C876.7 664.7 858.3 674.7 848.0 688.0C837.7 701.3 827.7 720.5 818.0 730.0C808.3 739.5 800.5 751.7 790.0 745.0C779.5 738.3 768.0 710.0 755.0 690.0C742.0 670.0 726.2 643.7 712.0 625.0C697.8 606.3 662.0 593.0 670.0 578.0Z" fill="#776861" filter="url(#b9)" opacity="1.00"/>
<path d="M725.0 550.0C739.2 536.7 809.2 523.3 830.0 525.0C850.8 526.7 848.0 545.0 850.0 560.0C852.0 575.0 848.7 597.5 842.0 615.0C835.3 632.5 821.2 658.3 810.0 665.0C798.8 671.7 785.8 665.0 775.0 655.0C764.2 645.0 753.3 622.5 745.0 605.0C736.7 587.5 710.8 563.3 725.0 550.0Z" fill="#61544e" filter="url(#b8)" opacity="0.80"/>
<path d="M515.0 640.0C522.8 632.0 536.7 623.0 550.0 620.0C563.3 617.0 583.7 615.3 595.0 622.0C606.3 628.7 616.3 645.0 618.0 660.0C619.7 675.0 613.8 697.8 605.0 712.0C596.2 726.2 578.8 739.5 565.0 745.0C551.2 750.5 532.0 751.7 522.0 745.0C512.0 738.3 508.2 717.8 505.0 705.0C501.8 692.2 501.3 678.8 503.0 668.0C504.7 657.2 507.2 648.0 515.0 640.0Z" fill="#dfd3cc" filter="url(#b9)" opacity="1.00"/>
<path d="M525.0 655.0C530.8 646.3 544.5 639.7 555.0 638.0C565.5 636.3 580.8 638.0 588.0 645.0C595.2 652.0 600.2 668.8 598.0 680.0C595.8 691.2 584.7 706.2 575.0 712.0C565.3 717.8 549.2 718.7 540.0 715.0C530.8 711.3 522.5 700.0 520.0 690.0C517.5 680.0 519.2 663.7 525.0 655.0Z" fill="#ebe2dc" filter="url(#b6)" opacity="0.90"/>
<path d="M612.0 608.0C615.0 605.5 625.3 603.0 632.0 603.0C638.7 603.0 648.3 605.7 652.0 608.0C655.7 610.3 657.0 614.5 654.0 617.0C651.0 619.5 640.7 622.8 634.0 623.0C627.3 623.2 617.7 620.5 614.0 618.0C610.3 615.5 609.0 610.5 612.0 608.0Z" fill="#ab9b93" filter="url(#b2_5)" opacity="0.55"/>
<path d="M600.0 640.0L601.8 644.3L604.7 646.7L608.1 648.7L611.9 650.5L615.8 652.3L619.8 654.0L623.6 655.8L627.1 657.7L630.2 659.7L632.8 661.7L635.7 664.3L639.1 667.3L642.7 670.8L646.6 674.6L650.5 678.6L654.4 682.7L658.3 686.8L662.1 690.8L665.7 694.7L668.9 698.1L671.8 701.4L674.7 704.9L677.6 708.7L680.6 712.6L683.5 716.5L686.4 720.3L689.3 723.8L692.2 726.8L695.4 729.2L700.0 730.0L700.0 730.0L702.4 726.1L703.0 722.3L702.9 718.1L702.4 713.4L701.5 708.5L700.2 703.2L698.6 697.8L696.5 692.4L694.0 687.0L691.1 681.9L687.9 677.0L684.5 672.2L680.6 667.3L676.4 662.4L672.0 657.7L667.3 653.1L662.5 648.8L657.6 644.8L652.5 641.3L647.2 638.3L641.5 635.8L635.6 634.1L629.9 633.1L624.4 632.7L619.2 632.7L614.3 633.2L610.0 634.0L606.2 635.1L603.0 636.6L600.0 640.0Z" fill="#c6b7ae" filter="url(#b8)" opacity="0.50"/>
<path d="M492.0 625.0L497.5 629.1L500.6 629.3L503.5 628.8L506.5 627.9L509.4 626.9L512.3 625.8L515.2 624.6L517.9 623.7L520.3 622.9L522.5 622.3L524.8 621.8L527.2 621.2L529.6 620.7L532.0 620.2L534.5 619.7L537.0 619.2L539.7 618.7L542.5 618.2L545.6 617.7L548.8 617.2L552.2 616.7L556.0 616.3L560.0 615.8L564.2 615.3L568.6 614.8L573.1 614.4L577.7 613.9L582.3 613.5L586.8 613.0L591.2 612.6L595.3 612.2L599.5 611.9L603.9 611.6L608.4 611.3L613.0 611.0L617.7 610.7L622.5 610.2L627.2 609.7L631.9 609.0L636.6 608.1L641.2 606.9L645.7 605.6L650.0 604.1L654.2 602.4L658.1 600.6L661.6 598.7L664.8 596.7L667.4 594.5L669.4 591.9L670.0 585.0L670.0 585.0L666.5 579.0L663.4 577.6L660.0 576.8L656.4 576.4L652.6 576.2L648.6 576.2L644.7 576.2L640.7 576.1L636.9 576.1L633.4 575.9L629.9 575.7L626.1 575.3L622.0 575.0L617.7 574.6L613.2 574.3L608.5 573.9L603.7 573.6L598.8 573.4L593.8 573.4L588.8 573.4L584.0 573.6L579.2 573.9L574.3 574.2L569.4 574.6L564.5 575.0L559.6 575.6L554.8 576.2L550.1 577.0L545.5 577.8L541.2 578.8L537.2 579.8L533.3 580.9L529.7 582.1L526.2 583.4L522.8 584.8L519.5 586.4L516.4 588.0L513.4 589.7L510.5 591.6L507.5 593.7L504.3 596.1L501.3 598.8L498.5 601.6L496.0 604.5L493.8 607.4L491.9 610.2L490.4 613.1L489.5 615.9L489.2 618.8L492.0 625.0Z" fill="#8e7f77" filter="url(#b7)" opacity="0.80"/>
<path d="M516.0 800.0L517.2 795.9L517.2 791.0L516.7 785.3L516.0 778.9L515.0 772.1L514.0 765.1L513.0 758.0L511.9 751.0L511.0 744.4L510.3 738.3L509.6 732.6L508.9 726.8L508.3 721.0L507.7 715.3L507.2 709.7L506.6 704.2L506.2 698.8L505.7 693.6L505.4 688.5L505.1 683.6L504.9 678.9L504.7 674.3L504.6 669.8L504.6 665.5L504.6 661.2L504.7 657.1L504.8 653.2L504.9 649.4L505.1 645.8L505.3 642.4L505.5 639.1L505.8 636.0L506.1 633.2L506.4 630.6L506.7 628.3L507.1 626.1L507.5 624.2L507.9 622.5L508.4 621.0L508.9 619.6L509.4 618.4L510.0 617.3L510.6 616.3L511.3 615.3L512.1 614.2L513.0 613.1L514.0 612.0L515.2 610.8L516.5 609.5L517.9 608.2L519.2 607.1L520.4 606.0L521.8 604.9L523.2 603.8L524.7 602.8L526.3 601.7L528.0 600.7L529.9 599.6L531.9 598.6L534.0 597.5L536.3 596.4L538.6 595.4L541.0 594.3L543.6 593.3L546.3 592.7L549.2 592.2L552.1 591.8L555.2 591.4L558.4 591.0L561.6 590.7L565.1 590.4L569.1 590.2L573.5 590.0L578.1 589.8L582.7 589.7L587.1 589.6L591.4 589.5L595.1 589.5L598.4 589.5L600.9 589.5L599.1 562.5L596.8 562.9L593.7 563.2L589.9 563.6L585.7 564.0L581.1 564.4L576.3 564.9L571.6 565.4L566.9 566.0L562.4 566.6L558.4 567.3L554.7 568.0L551.2 568.8L547.8 569.6L544.5 570.4L541.3 571.3L538.2 572.2L535.0 572.6L531.9 573.2L528.9 573.8L526.0 574.5L523.1 575.3L520.3 576.1L517.6 576.9L514.9 577.9L512.3 579.0L509.8 580.1L507.3 581.4L504.8 582.7L502.4 584.2L500.1 585.8L498.0 587.3L496.0 588.9L493.9 590.7L491.8 592.6L489.8 594.7L487.8 597.0L485.9 599.5L484.1 602.3L482.5 605.3L481.1 608.4L479.9 611.6L479.0 614.8L478.3 618.0L477.7 621.2L477.3 624.5L477.0 627.8L476.8 631.1L476.7 634.5L476.7 638.0L476.7 641.6L476.8 645.5L476.9 649.5L477.1 653.6L477.4 657.9L477.8 662.4L478.2 667.0L478.8 671.7L479.4 676.5L480.1 681.4L480.9 686.4L481.8 691.5L482.8 696.7L483.9 702.1L485.1 707.6L486.3 713.2L487.7 718.8L489.1 724.5L490.6 730.2L492.1 735.9L493.7 741.7L495.5 747.7L497.5 754.3L499.6 761.1L501.8 768.0L504.1 774.8L506.4 781.2L508.6 787.2L510.9 792.5L513.1 796.9L516.0 800.0Z" fill="#8e7f77" filter="url(#b4_5)" opacity="1.00"/>
<path d="M496.0 720.0L496.9 715.9L497.0 710.5L496.9 704.1L496.6 696.9L496.3 689.3L495.9 681.6L495.5 674.0L495.2 666.8L495.1 660.3L495.1 654.8L495.2 650.1L495.4 645.8L495.7 641.9L496.0 638.4L496.4 635.1L496.9 632.2L497.4 629.4L498.0 626.9L498.7 624.4L499.5 622.1L500.3 619.9L501.2 618.0L502.1 616.3L503.1 614.8L504.1 613.3L505.2 612.0L506.5 610.6L507.9 609.2L509.4 607.8L511.1 606.4L512.8 605.0L514.7 603.7L516.7 602.4L518.8 601.2L521.1 599.9L523.5 598.7L526.1 597.5L528.8 596.3L531.6 595.1L534.5 593.9L537.7 592.6L541.4 591.6L545.5 590.8L549.8 590.0L554.1 589.2L558.3 588.5L562.2 587.9L565.8 587.3L568.8 586.8L571.1 586.5L568.9 575.5L566.7 576.1L563.8 576.7L560.3 577.5L556.4 578.4L552.1 579.3L547.8 580.3L543.4 581.4L539.2 582.4L535.2 583.4L531.5 584.1L528.2 584.9L525.0 585.8L522.0 586.7L519.0 587.6L516.1 588.7L513.2 589.8L510.5 591.1L507.8 592.5L505.3 594.0L502.9 595.6L500.7 597.3L498.6 598.9L496.7 600.7L494.8 602.7L493.0 604.8L491.4 607.0L489.9 609.5L488.6 612.1L487.5 614.9L486.5 617.9L485.7 621.0L485.1 624.1L484.6 627.3L484.3 630.6L484.1 634.1L484.0 637.8L484.1 641.7L484.3 645.8L484.5 650.3L484.9 655.2L485.5 660.9L486.2 667.5L487.2 674.7L488.2 682.3L489.4 690.0L490.6 697.6L491.8 704.6L493.0 710.9L494.3 716.1L496.0 720.0Z" fill="#776861" filter="url(#b3_5)" opacity="0.80"/>
<path d="M488.0 612.0C490.0 610.2 495.0 604.5 500.0 601.0C505.0 597.5 510.0 594.2 518.0 591.0C526.0 587.8 536.0 584.2 548.0 582.0C560.0 579.8 577.2 578.8 590.0 578.0C602.8 577.2 619.2 577.2 625.0 577.0" fill="none" stroke="#776861" stroke-width="14.0" stroke-linecap="butt" filter="url(#b2_5)" opacity="1.00"/>
<path d="M494.0 606.0C498.0 603.7 509.0 595.8 518.0 592.0C527.0 588.2 536.0 585.2 548.0 583.0C560.0 580.8 577.7 579.8 590.0 579.0C602.3 578.2 616.7 578.2 622.0 578.0" fill="none" stroke="#61544e" stroke-width="7.0" stroke-linecap="butt" filter="url(#b1_5)" opacity="0.75"/>
<path d="M596.0 583.0C600.8 582.7 615.0 582.8 625.0 581.0C635.0 579.2 645.5 575.5 656.0 572.0C666.5 568.5 677.3 564.2 688.0 560.0C698.7 555.8 707.7 551.5 720.0 547.0C732.3 542.5 748.3 536.7 762.0 533.0C775.7 529.3 787.3 526.7 802.0 525.0C816.7 523.3 842.0 523.3 850.0 523.0" fill="none" stroke="#61544e" stroke-width="22.0" stroke-linecap="butt" filter="url(#b3)" opacity="1.00"/>
<path d="M618.0 580.0C624.3 578.2 644.3 572.8 656.0 569.0C667.7 565.2 677.3 561.2 688.0 557.0C698.7 552.8 707.7 548.5 720.0 544.0C732.3 539.5 748.3 533.7 762.0 530.0C775.7 526.3 788.2 523.8 802.0 522.0C815.8 520.2 837.8 519.5 845.0 519.0" fill="none" stroke="#4d423d" stroke-width="16.0" stroke-linecap="butt" filter="url(#b2)" opacity="1.00"/>
<path d="M641.4 603.2L645.1 602.6L650.0 601.6L656.1 601.6L662.9 601.3L670.1 600.7L677.4 599.9L684.7 598.9L691.8 597.9L698.3 597.0L704.2 596.0L709.5 595.0L714.3 594.0L718.7 593.0L722.9 591.9L726.7 590.9L730.4 589.8L734.0 588.7L737.6 587.6L741.2 586.4L745.3 585.2L749.7 583.8L754.4 582.3L759.1 580.8L763.8 579.1L768.6 577.5L773.4 575.8L778.2 574.2L782.9 572.5L787.7 571.0L792.5 569.6L797.6 569.2L803.3 568.8L809.4 568.5L815.6 568.2L821.8 568.1L827.9 568.0L833.5 567.9L838.6 567.9L843.0 567.9L846.4 567.9L843.6 532.1L840.4 532.6L836.3 533.2L831.3 533.9L825.6 534.6L819.4 535.3L812.9 536.1L806.4 537.0L799.8 538.0L793.5 539.1L787.5 540.4L781.8 541.0L776.1 541.6L770.5 542.4L764.9 543.3L759.5 544.4L754.3 545.5L749.1 546.8L744.2 548.1L739.4 549.4L734.7 550.8L730.1 552.3L725.8 553.8L721.8 555.4L718.1 557.1L714.5 558.8L711.0 560.5L707.6 562.2L704.0 564.1L700.1 566.0L695.8 568.0L690.7 570.2L684.8 572.7L678.4 575.4L671.7 578.2L664.9 581.1L658.4 584.0L652.3 587.0L647.0 590.0L642.2 591.5L638.6 592.8Z" fill="#61544e" filter="url(#b6)" opacity="0.85"/>
<path d="M490.0 606.0C491.8 604.7 496.5 600.8 501.0 598.0C505.5 595.2 509.3 592.0 517.0 589.0C524.7 586.0 535.0 582.2 547.0 580.0C559.0 577.8 576.3 576.5 589.0 575.5C601.7 574.5 612.3 575.9 623.0 574.0C633.7 572.1 642.7 567.7 653.0 564.0C663.3 560.3 674.3 556.2 685.0 552.0C695.7 547.8 704.5 543.5 717.0 539.0C729.5 534.5 746.0 528.7 760.0 525.0C774.0 521.3 786.8 518.7 801.0 517.0C815.2 515.3 837.7 515.3 845.0 515.0" fill="none" stroke="#61544e" stroke-width="4.0" stroke-linecap="butt" filter="url(#b1)" opacity="0.60"/>
<path d="M835.0 590.0L831.9 592.2L828.7 595.7L825.2 599.9L821.4 604.8L817.3 610.0L813.1 615.5L808.8 621.2L804.5 626.8L800.3 632.2L796.3 637.2L792.4 642.2L788.4 647.2L784.2 652.2L780.0 657.3L775.8 662.5L771.7 667.6L767.6 672.6L763.7 677.6L759.9 682.5L756.4 687.2L753.0 691.9L749.5 696.8L746.2 701.6L742.9 706.5L739.9 711.2L737.0 715.6L734.5 719.8L732.4 723.6L730.7 726.9L730.0 730.0L730.0 730.0L732.8 728.4L735.5 725.9L738.5 722.7L741.7 719.1L745.1 715.1L748.8 710.8L752.5 706.4L756.2 701.8L760.0 697.3L763.6 692.8L767.3 688.4L771.2 683.7L775.2 678.9L779.4 673.9L783.6 668.8L787.7 663.6L791.9 658.4L796.0 653.2L799.9 647.9L803.7 642.8L807.4 637.4L811.3 631.6L815.2 625.7L819.0 619.7L822.7 613.7L826.2 608.0L829.3 602.7L831.9 597.9L834.0 593.7L835.0 590.0Z" fill="#ab9b93" filter="url(#b4)" opacity="0.55"/>
<path d="M790.0 600.0L787.1 602.3L784.3 605.9L781.2 610.2L777.9 615.2L774.4 620.6L770.8 626.2L767.1 631.9L763.5 637.5L760.0 642.8L756.7 647.7L753.3 652.6L749.7 657.7L745.8 663.0L741.9 668.3L738.1 673.6L734.5 678.7L731.2 683.4L728.3 687.7L726.1 691.5L725.0 695.0L725.0 695.0L728.1 693.2L731.4 690.2L735.0 686.5L739.0 682.3L743.2 677.7L747.4 672.7L751.7 667.6L755.9 662.4L759.8 657.2L763.3 652.3L766.7 647.1L770.1 641.6L773.5 635.7L776.8 629.8L780.0 623.8L782.9 618.1L785.5 612.7L787.7 607.9L789.4 603.7L790.0 600.0Z" fill="#ab9b93" filter="url(#b4)" opacity="0.45"/>
<path d="M850.0 640.0L847.1 642.4L844.2 646.0L841.1 650.4L837.6 655.4L834.1 660.9L830.4 666.5L826.8 672.2L823.2 677.8L819.8 683.0L816.7 687.8L813.6 692.3L810.4 697.0L807.1 701.8L803.8 706.5L800.6 711.1L797.5 715.6L794.8 719.7L792.5 723.5L790.7 726.9L790.0 730.0L790.0 730.0L792.8 728.5L795.6 725.9L798.8 722.8L802.1 719.1L805.7 715.1L809.4 710.8L813.1 706.2L816.7 701.6L820.1 696.9L823.3 692.2L826.5 687.3L829.8 681.9L833.1 676.1L836.5 670.1L839.7 664.1L842.7 658.3L845.4 652.9L847.6 648.0L849.3 643.7L850.0 640.0Z" fill="#c6b7ae" filter="url(#b3)" opacity="0.50"/>
<path d="M471.0 610.0C471.3 618.3 472.5 641.7 473.0 660.0C473.5 678.3 473.3 701.7 474.0 720.0C474.7 738.3 475.2 755.0 477.0 770.0C478.8 785.0 481.3 796.7 485.0 810.0C488.7 823.3 494.5 837.5 499.0 850.0C503.5 862.5 506.2 872.5 512.0 885.0C517.8 897.5 527.3 912.5 534.0 925.0C540.7 937.5 549.0 954.2 552.0 960.0" fill="none" stroke="#dfd3cc" stroke-width="11.0" stroke-linecap="butt" filter="url(#b2)" opacity="0.95"/>
<path d="M465.3 600.6L465.5 602.0L465.8 603.8L466.2 605.9L466.5 608.2L466.8 610.8L466.7 613.6L466.7 616.5L466.7 619.5L466.8 622.5L466.8 625.5L466.9 628.6L467.0 631.8L467.2 635.1L467.4 638.5L467.6 642.0L467.8 645.6L468.0 649.2L468.3 652.9L468.5 656.6L468.8 660.3L469.1 664.2L469.4 668.5L469.8 673.1L470.1 677.7L470.5 682.3L471.0 686.8L471.5 690.9L472.2 694.6L473.1 697.7L474.8 700.1L479.2 699.9L480.8 697.5L481.6 694.4L482.1 690.7L482.4 686.5L482.7 682.1L482.9 677.4L483.1 672.7L483.1 668.1L483.2 663.7L483.2 659.7L483.1 655.9L483.0 652.2L482.9 648.4L482.7 644.7L482.5 641.1L482.3 637.6L482.1 634.1L481.8 630.8L481.5 627.6L481.2 624.5L480.8 621.5L480.4 618.4L480.0 615.5L479.5 612.6L478.9 609.8L478.8 607.2L478.7 604.8L478.7 602.7L478.7 600.9L478.7 599.4Z" fill="#dfd3cc" filter="url(#b2_5)" opacity="0.95"/>
<path d="M720.0 690.0L716.0 688.9L712.1 689.8L707.8 691.3L703.1 693.2L698.1 695.4L692.8 697.7L687.3 700.1L681.8 702.5L676.3 704.8L670.9 707.0L665.3 709.1L659.5 711.2L653.5 713.4L647.3 715.7L640.9 717.9L634.5 720.2L628.0 722.5L621.5 724.9L615.1 727.2L608.9 729.6L602.8 731.8L596.9 734.0L591.1 736.1L585.2 738.2L579.3 740.4L573.2 742.7L567.0 745.1L560.6 747.8L553.9 750.7L546.9 753.9L539.3 757.7L530.8 762.0L521.9 766.7L512.7 771.7L503.5 776.7L494.7 781.7L486.6 786.5L479.4 790.9L473.6 795.0L470.0 800.0L470.0 800.0L476.1 800.2L482.9 797.9L490.8 794.8L499.5 791.2L508.7 787.2L518.2 783.0L527.7 778.8L536.9 774.8L545.5 771.2L553.1 768.1L560.0 765.4L566.5 763.0L572.9 760.8L579.0 758.7L585.0 756.8L590.9 754.8L596.9 752.9L602.9 750.8L609.0 748.7L615.1 746.4L621.4 744.1L627.8 741.7L634.2 739.2L640.6 736.7L647.1 734.2L653.4 731.6L659.6 729.0L665.7 726.4L671.5 723.7L677.1 721.0L682.6 718.2L688.1 715.2L693.5 712.0L698.7 708.8L703.7 705.6L708.2 702.5L712.4 699.5L715.9 696.7L718.7 693.9L720.0 690.0Z" fill="#dfd3cc" filter="url(#b4)" opacity="0.75"/>
<path d="M745.0 703.0L741.3 702.4L737.2 703.5L732.6 705.0L727.5 706.8L722.0 708.9L716.3 711.0L710.5 713.2L704.8 715.2L699.3 717.2L694.2 718.8L689.2 720.2L684.2 721.6L679.2 722.9L674.2 724.1L669.1 725.3L664.0 726.4L658.8 727.6L653.6 728.8L648.4 730.1L643.3 731.4L638.2 732.7L633.1 733.9L627.9 735.0L622.7 736.2L617.5 737.4L612.2 738.8L606.8 740.2L601.5 741.8L596.0 743.6L590.6 745.6L585.2 747.8L580.1 750.1L574.9 752.5L569.9 755.0L564.8 757.7L559.6 760.5L554.3 763.4L548.9 766.5L543.3 769.7L537.4 773.2L530.8 777.0L523.5 781.4L515.7 786.1L507.6 791.0L499.6 796.1L491.9 801.0L484.7 805.7L478.4 810.0L473.2 813.8L470.0 818.0L470.0 818.0L475.3 817.3L481.2 814.7L488.0 811.3L495.7 807.4L503.8 803.2L512.1 798.8L520.4 794.4L528.4 790.1L535.9 786.2L542.6 782.8L548.7 779.8L554.5 776.9L560.0 774.2L565.3 771.5L570.5 769.1L575.5 766.7L580.5 764.5L585.4 762.3L590.4 760.3L595.4 758.4L600.5 756.6L605.5 755.1L610.6 753.6L615.7 752.3L620.8 751.1L625.9 749.8L631.1 748.6L636.3 747.4L641.5 746.0L646.7 744.6L651.9 743.2L656.9 741.8L662.0 740.4L667.2 739.0L672.3 737.6L677.4 736.1L682.5 734.6L687.6 732.9L692.7 731.1L697.8 729.2L703.1 727.0L708.6 724.6L714.2 721.9L719.9 719.2L725.4 716.4L730.6 713.6L735.3 711.0L739.5 708.5L742.9 706.1L745.0 703.0Z" fill="#a3938a" filter="url(#b4)" opacity="0.70"/>
<path d="M760.0 723.0L755.8 722.3L751.3 723.3L746.1 724.9L740.3 726.9L734.1 729.1L727.7 731.4L721.3 733.8L715.1 736.1L709.1 738.2L703.7 740.1L698.6 741.8L693.7 743.5L688.8 745.0L684.0 746.5L679.3 748.0L674.5 749.5L669.8 751.0L665.0 752.5L660.2 754.0L655.4 755.6L650.6 757.2L645.8 758.9L641.1 760.5L636.3 762.1L631.5 763.8L626.7 765.4L621.9 767.2L617.0 768.9L612.1 770.8L607.3 772.7L602.6 774.5L598.0 776.2L593.6 777.9L589.1 779.7L584.4 781.5L579.7 783.5L574.6 785.7L569.2 788.2L563.5 791.1L557.2 794.4L550.1 798.3L541.9 802.9L533.1 808.0L523.8 813.5L514.6 819.1L505.6 824.7L497.2 830.0L489.8 834.9L483.8 839.3L480.0 844.0L480.0 844.0L486.0 843.3L492.9 840.4L500.9 836.6L509.8 832.1L519.2 827.4L528.8 822.4L538.3 817.6L547.4 813.0L555.6 809.0L562.8 805.6L569.0 802.9L574.7 800.6L579.9 798.5L584.9 796.7L589.6 795.1L594.1 793.6L598.6 792.1L603.2 790.6L607.9 789.0L612.7 787.3L617.6 785.6L622.4 783.9L627.2 782.2L632.0 780.5L636.8 778.9L641.5 777.2L646.3 775.5L651.0 773.8L655.8 772.1L660.6 770.4L665.3 768.6L670.0 766.9L674.6 765.2L679.3 763.5L684.0 761.8L688.7 759.9L693.5 758.1L698.3 756.1L703.3 754.1L708.3 751.9L713.7 749.4L719.5 746.7L725.6 743.8L731.8 740.8L737.9 737.8L743.7 734.8L749.1 731.8L753.8 729.1L757.7 726.5L760.0 723.0Z" fill="#dfd3cc" filter="url(#b4)" opacity="0.75"/>
<path d="M780.0 738.0L776.0 737.7L771.7 739.0L766.8 740.8L761.4 742.9L755.5 745.4L749.4 747.9L743.3 750.6L737.1 753.2L731.2 755.7L725.7 758.0L720.4 760.2L715.1 762.3L709.8 764.4L704.5 766.6L699.1 768.7L693.8 770.9L688.4 773.0L683.0 775.2L677.6 777.5L672.3 779.7L667.0 782.0L661.8 784.2L656.7 786.4L651.7 788.5L646.6 790.8L641.3 793.1L635.9 795.5L630.3 798.1L624.4 800.8L618.1 803.8L611.4 807.0L604.2 810.6L596.7 814.3L589.0 818.2L581.1 822.2L573.3 826.1L565.5 830.1L557.9 833.9L550.6 837.6L543.7 841.0L536.9 844.3L529.9 847.6L522.9 851.0L515.9 854.3L509.2 857.4L502.9 860.5L497.1 863.4L492.0 866.1L487.8 868.6L485.0 872.0L485.0 872.0L489.3 872.4L494.1 871.2L499.6 869.5L505.8 867.4L512.4 865.1L519.4 862.5L526.6 859.7L533.9 856.9L541.2 854.0L548.3 851.0L555.4 847.9L563.0 844.6L570.8 841.0L578.7 837.3L586.7 833.6L594.7 829.8L602.5 826.2L610.0 822.6L617.2 819.3L623.9 816.2L630.1 813.4L636.0 810.7L641.6 808.3L647.0 805.9L652.2 803.6L657.3 801.4L662.3 799.1L667.4 796.9L672.5 794.6L677.7 792.3L683.0 789.9L688.3 787.5L693.6 785.2L698.9 782.8L704.1 780.4L709.4 778.0L714.6 775.6L719.9 773.1L725.1 770.6L730.3 768.0L735.7 765.3L741.5 762.3L747.4 759.2L753.3 756.0L759.1 752.8L764.6 749.7L769.7 746.7L774.2 743.9L777.8 741.3L780.0 738.0Z" fill="#a3938a" filter="url(#b4)" opacity="0.75"/>
<path d="M785.0 765.0L781.3 764.7L777.4 765.9L772.9 767.7L768.0 769.8L762.8 772.2L757.3 774.7L751.8 777.2L746.5 779.6L741.3 782.0L736.6 784.0L732.2 785.9L727.8 787.7L723.4 789.5L719.1 791.3L714.8 793.0L710.5 794.7L706.2 796.4L701.9 798.1L697.6 799.9L693.2 801.7L689.1 803.5L685.3 805.2L681.6 806.8L678.0 808.3L674.3 810.0L670.5 811.7L666.2 813.6L661.6 815.7L656.3 818.0L650.3 820.7L643.4 823.8L635.7 827.2L627.3 830.9L618.5 834.8L609.3 838.9L600.0 843.0L590.7 847.2L581.7 851.3L573.0 855.2L564.8 858.9L556.8 862.6L548.6 866.5L540.2 870.3L532.0 874.2L524.0 878.0L516.5 881.7L509.6 885.1L503.5 888.4L498.4 891.3L495.0 895.0L495.0 895.0L500.0 895.0L505.7 893.4L512.2 891.2L519.4 888.6L527.3 885.6L535.5 882.4L544.0 879.1L552.5 875.7L561.0 872.3L569.2 869.1L577.5 865.7L586.3 862.1L595.5 858.4L604.9 854.5L614.3 850.6L623.6 846.8L632.5 843.0L641.0 839.5L648.8 836.2L655.7 833.3L661.8 830.7L667.1 828.4L671.9 826.4L676.1 824.5L680.0 822.8L683.7 821.1L687.3 819.5L690.9 817.9L694.7 816.1L698.8 814.3L703.0 812.3L707.2 810.4L711.4 808.5L715.6 806.6L719.8 804.7L724.1 802.7L728.3 800.6L732.7 798.5L737.0 796.3L741.4 794.0L746.0 791.4L751.0 788.6L756.2 785.6L761.5 782.6L766.6 779.5L771.5 776.4L776.0 773.5L780.0 770.8L783.2 768.2L785.0 765.0Z" fill="#dfd3cc" filter="url(#b4)" opacity="0.70"/>
<path d="M770.0 798.0L766.5 797.4L763.3 798.4L759.7 799.8L755.7 801.5L751.4 803.6L746.8 805.8L741.9 808.1L736.6 810.6L731.2 813.1L725.5 815.6L719.3 818.2L712.6 820.9L705.4 823.7L697.9 826.7L690.0 829.8L682.0 833.0L673.9 836.3L665.8 839.7L657.8 843.1L650.0 846.7L642.4 850.3L634.8 854.1L627.2 858.0L619.6 861.9L612.1 865.9L604.6 870.0L597.1 874.0L589.8 878.0L582.5 881.8L575.4 885.6L568.0 889.5L560.2 893.5L552.2 897.6L544.2 901.7L536.4 905.8L529.0 909.7L522.2 913.4L516.2 916.8L511.2 920.0L508.0 924.0L508.0 924.0L513.1 924.1L518.7 922.3L525.2 920.0L532.5 917.2L540.2 914.0L548.4 910.6L556.7 907.0L564.9 903.4L573.0 899.8L580.6 896.4L588.1 892.9L595.6 889.3L603.1 885.6L610.7 881.8L618.3 877.9L625.9 874.1L633.5 870.3L641.0 866.5L648.5 862.9L656.0 859.3L663.5 855.9L671.3 852.5L679.2 849.0L687.2 845.7L695.1 842.3L702.9 839.0L710.4 835.8L717.6 832.6L724.3 829.5L730.5 826.4L736.3 823.4L741.7 820.3L746.8 817.3L751.6 814.3L755.9 811.4L759.9 808.7L763.4 806.1L766.4 803.6L768.8 801.3L770.0 798.0Z" fill="#a3938a" filter="url(#b4)" opacity="0.75"/>
<path d="M760.0 773.0L757.4 773.3L754.8 774.5L751.9 776.2L748.6 778.1L745.1 780.3L741.4 782.7L737.6 785.4L733.6 788.2L729.6 791.2L725.7 794.3L721.7 797.7L717.6 801.5L713.5 805.5L709.3 809.6L705.0 813.9L700.6 818.2L696.1 822.5L691.6 826.7L687.0 830.7L682.3 834.6L677.4 838.2L672.2 841.9L666.8 845.6L661.2 849.2L655.5 852.8L649.9 856.3L644.3 859.9L638.8 863.4L633.5 866.9L628.5 870.4L623.8 873.8L619.5 877.1L615.4 880.3L611.6 883.5L607.8 886.6L604.0 889.7L600.1 892.9L596.0 896.2L591.7 899.6L587.0 903.1L581.6 907.0L575.5 911.3L569.0 915.9L562.2 920.6L555.4 925.3L548.9 929.9L542.7 934.2L537.3 938.1L532.9 941.6L530.0 945.0L530.0 945.0L534.3 943.7L539.3 941.1L545.1 937.7L551.5 933.9L558.3 929.7L565.4 925.4L572.4 921.0L579.2 916.7L585.4 912.6L591.0 908.9L596.0 905.5L600.6 902.2L604.9 899.1L608.9 896.0L612.9 893.0L616.7 890.0L620.7 887.0L624.7 884.0L629.0 880.8L633.5 877.6L638.4 874.3L643.6 870.9L649.1 867.4L654.7 863.9L660.3 860.4L666.0 856.7L671.7 853.0L677.3 849.3L682.6 845.4L687.7 841.4L692.6 837.3L697.4 833.0L702.0 828.6L706.5 824.1L710.8 819.6L715.0 815.2L719.0 811.0L722.9 806.9L726.7 803.1L730.3 799.7L733.9 796.4L737.6 793.3L741.3 790.2L744.8 787.3L748.2 784.6L751.4 782.0L754.3 779.6L756.8 777.4L758.9 775.4L760.0 773.0Z" fill="#dfd3cc" filter="url(#b4)" opacity="0.70"/>
<path d="M745.0 832.0L741.4 832.3L738.1 834.2L734.4 836.7L730.4 839.6L726.1 842.8L721.6 846.2L716.9 849.6L712.2 853.1L707.5 856.4L702.8 859.4L698.2 862.3L693.3 865.2L688.1 868.0L682.8 870.9L677.4 873.8L671.8 876.9L666.2 880.1L660.5 883.4L654.9 886.9L649.3 890.7L643.8 894.7L638.3 898.9L632.8 903.3L627.4 907.8L622.0 912.4L616.7 917.0L611.4 921.6L606.1 926.1L600.9 930.4L595.7 934.5L590.3 938.7L584.4 943.0L578.4 947.4L572.3 951.8L566.3 956.2L560.6 960.3L555.4 964.2L550.8 967.8L547.1 971.2L545.0 975.0L545.0 975.0L549.3 974.6L553.9 972.6L559.1 969.9L564.8 966.7L570.9 963.2L577.3 959.4L583.8 955.5L590.2 951.4L596.4 947.4L602.3 943.5L607.9 939.5L613.5 935.3L619.1 930.9L624.6 926.5L630.1 922.1L635.5 917.6L640.9 913.3L646.2 909.1L651.5 905.1L656.7 901.3L662.0 897.8L667.3 894.4L672.7 891.1L678.1 887.9L683.5 884.8L688.9 881.6L694.2 878.5L699.4 875.3L704.4 872.0L709.2 868.6L713.8 865.0L718.5 861.1L723.0 857.2L727.4 853.2L731.6 849.2L735.4 845.4L738.8 841.8L741.8 838.5L744.1 835.5L745.0 832.0Z" fill="#a3938a" filter="url(#b4)" opacity="0.75"/>
<path d="M730.0 864.0L726.7 864.5L723.9 866.3L720.9 868.7L717.7 871.4L714.2 874.5L710.5 877.8L706.4 881.2L702.2 884.8L697.6 888.3L692.9 891.9L687.7 895.5L681.9 899.4L675.7 903.4L669.1 907.6L662.2 912.0L655.3 916.4L648.2 921.0L641.3 925.5L634.5 930.2L628.0 934.8L621.5 939.6L614.7 944.9L607.7 950.4L600.8 955.9L594.0 961.5L587.6 966.9L581.7 971.9L576.6 976.5L572.4 980.7L570.0 985.0L570.0 985.0L574.8 983.8L579.9 980.8L585.7 977.1L592.1 972.7L598.9 967.9L606.0 962.8L613.2 957.7L620.4 952.6L627.4 947.7L634.0 943.2L640.4 938.9L647.2 934.5L654.1 930.1L661.1 925.7L668.1 921.3L675.0 916.9L681.6 912.6L687.9 908.3L693.8 904.2L699.1 900.1L704.0 896.1L708.5 892.0L712.7 888.0L716.5 884.0L719.9 880.2L723.0 876.5L725.6 873.1L727.8 870.1L729.5 867.3L730.0 864.0Z" fill="#dfd3cc" filter="url(#b4)" opacity="0.70"/>
<path d="M715.0 900.0L710.3 901.6L705.4 905.1L699.9 909.6L693.7 914.7L687.3 920.2L680.6 925.8L674.0 931.5L667.7 936.9L661.9 941.8L656.7 946.1L652.1 949.7L647.7 953.0L643.6 956.1L639.7 959.0L635.8 961.8L632.1 964.5L628.4 967.2L624.6 970.0L620.8 972.8L616.9 975.9L612.8 979.1L608.5 982.6L604.0 986.3L599.5 990.0L595.1 993.7L590.9 997.2L587.1 1000.6L583.8 1003.7L581.2 1006.6L580.0 1010.0L580.0 1010.0L583.6 1009.8L587.1 1008.1L591.0 1005.8L595.3 1003.1L599.9 1000.1L604.7 996.9L609.5 993.6L614.2 990.3L618.8 987.1L623.1 984.1L627.1 981.4L630.9 978.7L634.7 976.1L638.5 973.4L642.3 970.7L646.2 967.9L650.2 964.8L654.4 961.5L658.7 957.9L663.3 953.9L668.4 949.4L674.1 944.1L680.2 938.3L686.5 932.2L692.7 926.1L698.7 920.1L704.3 914.3L709.1 909.1L713.0 904.5L715.0 900.0Z" fill="#a3938a" filter="url(#b4)" opacity="0.75"/>
<path d="M893.0 655.0C887.3 657.7 866.8 665.4 858.6 671.0C850.4 676.6 848.6 682.1 843.6 688.6C838.6 695.1 834.0 702.9 828.6 710.0C823.2 717.1 816.8 723.8 811.0 731.0C805.2 738.2 799.3 745.8 794.0 753.0C788.7 760.2 783.7 766.7 779.0 774.0C774.3 781.3 770.2 790.7 766.0 797.0C761.8 803.3 758.6 806.3 754.0 812.0C749.4 817.7 743.3 825.5 738.6 831.0C733.9 836.5 729.6 840.2 726.0 845.0C722.4 849.8 719.7 854.8 717.0 860.0C714.3 865.2 712.2 870.2 710.0 876.0C707.8 881.8 706.2 888.5 704.0 895.0C701.8 901.5 700.0 908.0 697.0 915.0C694.0 922.0 690.3 929.8 686.0 937.0C681.7 944.2 673.5 954.5 671.0 958.0" fill="none" stroke="#776861" stroke-width="7.0" stroke-linecap="butt" filter="url(#b2)" opacity="0.85"/>
<path d="M850.0 690.0L847.0 692.1L843.8 695.3L840.1 699.3L836.1 703.8L831.8 708.7L827.5 713.8L823.2 718.9L819.0 723.8L815.2 728.4L811.8 732.5L808.7 736.2L805.8 739.7L803.1 743.0L800.4 746.3L797.9 749.4L795.4 752.5L793.0 755.6L790.7 758.7L788.3 761.8L785.9 765.1L783.6 768.4L781.4 771.6L779.3 774.8L777.2 778.0L775.2 781.2L773.2 784.4L771.2 787.7L769.1 790.9L767.0 794.2L764.7 797.6L762.3 801.2L759.5 805.1L756.5 809.3L753.5 813.5L750.4 817.7L747.6 821.8L744.9 825.7L742.6 829.2L740.9 832.2L740.0 835.0L740.0 835.0L742.5 833.6L745.2 831.2L748.1 828.3L751.4 824.9L754.8 821.3L758.3 817.4L761.8 813.5L765.2 809.6L768.4 805.9L771.3 802.4L773.9 799.2L776.3 795.9L778.7 792.8L781.0 789.6L783.2 786.5L785.3 783.4L787.5 780.3L789.6 777.2L791.8 774.1L794.1 770.9L796.4 767.7L798.6 764.6L800.9 761.5L803.2 758.4L805.5 755.2L807.8 752.0L810.3 748.6L812.8 745.1L815.4 741.4L818.2 737.5L821.3 733.1L824.8 728.3L828.5 723.0L832.4 717.6L836.3 712.2L840.0 706.9L843.4 701.9L846.4 697.3L848.7 693.4L850.0 690.0Z" fill="#c6b7ae" filter="url(#b3)" opacity="0.75"/>
<path d="M562.0 965.0C566.7 956.7 587.0 954.5 600.0 955.0C613.0 955.5 635.3 960.5 640.0 968.0C644.7 975.5 634.7 992.2 628.0 1000.0C621.3 1007.8 609.3 1014.2 600.0 1015.0C590.7 1015.8 578.3 1013.3 572.0 1005.0C565.7 996.7 557.3 973.3 562.0 965.0Z" fill="#8e7f77" filter="url(#b6)" opacity="0.65"/>
<path d="M554.0 972.0C556.0 976.0 561.3 990.0 566.0 996.0C570.7 1002.0 576.3 1005.5 582.0 1008.0C587.7 1010.5 597.0 1010.5 600.0 1011.0" fill="none" stroke="#d0c2ba" stroke-width="4.0" stroke-linecap="butt" filter="url(#b2)" opacity="0.80"/>
<path d="M806.0 525.0C815.3 520.0 852.3 514.2 862.0 520.0C871.7 525.8 863.3 545.5 864.0 560.0C864.7 574.5 863.7 593.3 866.0 607.0C868.3 620.7 873.5 633.8 878.0 642.0C882.5 650.2 896.0 651.7 893.0 656.0C890.0 660.3 869.7 670.7 860.0 668.0C850.3 665.3 841.7 653.0 835.0 640.0C828.3 627.0 824.8 605.0 820.0 590.0C815.2 575.0 808.3 560.8 806.0 550.0C803.7 539.2 796.7 530.0 806.0 525.0Z" fill="#776861" filter="url(#b5)" opacity="0.90"/>
<path d="M806.0 528.0L804.6 530.8L803.9 534.5L803.4 538.7L803.0 543.6L802.7 548.8L802.6 554.2L802.6 559.8L802.7 565.3L803.0 570.6L803.5 575.6L804.3 580.5L805.4 585.7L806.6 591.0L808.0 596.2L809.6 601.3L811.2 606.1L812.8 610.6L814.4 614.5L815.9 617.7L818.0 620.0L818.0 620.0L818.8 617.0L818.7 613.4L818.2 609.2L817.5 604.5L816.7 599.6L815.8 594.4L814.8 589.2L813.9 584.0L813.1 579.0L812.5 574.4L811.9 569.8L811.4 564.7L810.9 559.4L810.5 554.0L810.0 548.6L809.5 543.5L809.0 538.7L808.4 534.4L807.6 530.8L806.0 528.0Z" fill="#4d423d" filter="url(#b3)" opacity="0.80"/>
<path d="M838.0 518.0L836.4 520.7L835.8 524.0L835.4 527.9L835.2 532.2L835.0 536.9L835.0 541.8L835.1 546.8L835.2 551.7L835.4 556.4L835.6 560.7L835.9 564.8L836.2 568.9L836.5 572.9L836.9 577.0L837.4 581.0L838.0 585.1L838.7 589.2L839.6 593.3L840.6 597.4L841.8 601.6L843.2 605.9L844.9 610.4L846.9 615.0L848.9 619.6L851.0 624.1L853.2 628.3L855.3 632.2L857.4 635.5L859.4 638.3L862.0 640.0L862.0 640.0L862.8 637.0L862.5 633.6L861.8 629.7L860.8 625.4L859.7 620.9L858.5 616.2L857.3 611.5L856.1 606.8L855.1 602.5L854.2 598.4L853.5 594.6L852.9 590.8L852.4 586.9L851.8 583.1L851.3 579.2L850.8 575.3L850.3 571.4L849.7 567.4L849.1 563.3L848.4 559.3L847.6 555.0L846.8 550.5L846.0 545.7L845.1 540.9L844.2 536.1L843.3 531.5L842.3 527.3L841.2 523.5L840.0 520.3L838.0 518.0Z" fill="#ab9b93" filter="url(#b3)" opacity="0.85"/>
<path d="M857.0 530.0C856.7 536.7 854.7 556.7 855.0 570.0C855.3 583.3 856.5 598.3 859.0 610.0C861.5 621.7 868.2 635.0 870.0 640.0" fill="none" stroke="#776861" stroke-width="4.0" stroke-linecap="butt" filter="url(#b1_5)" opacity="0.70"/>
<g mask="url(#mDarkR)"><g transform="rotate(-50 760 680)"><rect x="520" y="440" width="480" height="480" filter="url(#blotchD2)" opacity="0.45"/><rect x="520" y="440" width="480" height="480" filter="url(#blotchL)" opacity="0.3"/></g></g>
<g transform="rotate(-33 650 750)"><rect x="300" y="300" width="800" height="900" filter="url(#streakD)" opacity="0.3"/><rect x="300" y="300" width="800" height="900" filter="url(#streakL)" opacity="0.3"/></g>
</g>
<g clip-path="url(#cAll)"><rect x="340" y="370" width="760" height="660" filter="url(#grain)"/></g>
<g clip-path="url(#cGlen)">
<path d="M863.0 540.0C863.8 534.0 865.5 529.7 867.0 526.0C868.5 522.3 868.9 520.2 872.0 518.0C875.1 515.8 880.2 513.7 885.7 513.0C891.2 512.3 899.3 513.7 905.0 514.0C910.7 514.3 915.3 515.8 920.0 515.0C924.7 514.2 929.7 511.5 933.0 509.0C936.3 506.5 937.9 503.0 940.0 500.0C942.1 497.0 943.4 493.5 945.7 491.0C948.0 488.5 949.8 486.1 954.0 485.0C958.2 483.9 965.2 483.8 971.0 484.5C976.8 485.2 983.2 486.8 988.6 489.0C994.0 491.2 999.7 495.5 1003.6 498.0C1007.5 500.5 1010.6 501.8 1012.0 504.0C1013.4 506.2 1012.7 508.8 1012.0 511.0C1011.3 513.2 1011.2 513.8 1008.0 517.0C1004.8 520.2 997.3 525.7 993.0 530.0C988.7 534.3 985.7 537.7 982.0 543.0C978.3 548.3 974.2 556.0 971.0 562.0C967.8 568.0 966.5 573.3 963.0 579.0C959.5 584.7 955.0 590.2 950.0 596.0C945.0 601.8 938.7 607.4 933.0 613.6C927.3 619.8 920.7 627.6 915.7 633.0C910.7 638.4 907.0 642.1 903.0 645.7C899.0 649.3 895.7 654.1 892.0 654.5C888.3 654.9 883.8 650.9 881.0 648.0C878.2 645.1 876.7 640.7 875.0 637.0C873.3 633.3 872.2 631.0 870.7 626.0C869.2 621.0 867.1 612.3 866.0 607.0C864.9 601.7 864.7 601.5 864.0 594.0C863.3 586.5 862.2 571.0 862.0 562.0C861.8 553.0 862.2 546.0 863.0 540.0Z" fill="#a6b9c7" opacity="1.00"/>
<path d="M872.0 640.0L882.7 642.7L887.6 640.3L892.1 636.9L896.6 632.6L901.2 627.9L905.7 622.8L910.2 617.6L914.6 612.5L918.8 607.5L922.7 602.8L926.6 598.2L930.6 593.5L934.6 588.6L938.6 583.7L942.5 578.7L946.5 573.8L950.3 568.8L954.1 564.0L957.8 559.2L961.3 554.6L964.8 550.0L968.6 545.1L972.5 540.1L976.3 534.9L980.1 529.8L983.5 524.7L986.5 519.8L988.8 514.9L989.9 509.8L985.0 500.0L985.0 500.0L975.4 494.8L970.4 495.7L965.4 497.7L960.2 500.5L954.9 503.9L949.5 507.8L944.1 511.9L938.7 516.3L933.5 520.9L928.7 525.4L924.1 530.0L919.6 534.8L915.2 539.7L910.8 544.8L906.6 550.0L902.4 555.4L898.4 560.8L894.5 566.2L890.8 571.7L887.3 577.2L883.8 583.0L880.3 589.1L876.9 595.5L873.7 602.0L870.8 608.3L868.3 614.6L866.4 620.5L865.2 626.1L865.2 631.4L872.0 640.0Z" fill="#d3dee6" filter="url(#b9)" opacity="0.95"/>
<path d="M880.0 610.0L884.0 608.8L887.5 606.0L891.2 602.4L895.0 598.3L899.0 593.7L903.0 588.8L907.0 583.9L910.9 579.0L914.7 574.4L918.2 570.1L921.7 565.8L925.6 561.3L929.6 556.5L933.7 551.6L937.6 546.7L941.4 542.0L944.7 537.4L947.5 533.1L949.6 529.2L950.0 525.0L950.0 525.0L945.8 525.5L941.9 527.6L937.7 530.4L933.1 533.8L928.4 537.6L923.5 541.8L918.7 546.3L914.1 550.8L909.7 555.4L905.8 559.9L902.1 564.6L898.5 569.8L894.9 575.2L891.5 580.8L888.3 586.3L885.4 591.7L882.9 596.9L881.0 601.6L879.7 605.8L880.0 610.0Z" fill="#e2eaef" filter="url(#b6)" opacity="0.70"/>
<path d="M1012.0 504.0C1011.3 506.2 1011.2 512.7 1008.0 517.0C1004.8 521.3 997.3 525.7 993.0 530.0C988.7 534.3 985.7 537.7 982.0 543.0C978.3 548.3 974.2 556.0 971.0 562.0C967.8 568.0 966.5 573.3 963.0 579.0C959.5 584.7 955.0 590.2 950.0 596.0C945.0 601.8 938.7 607.4 933.0 613.6C927.3 619.8 920.7 627.6 915.7 633.0C910.7 638.4 907.0 642.1 903.0 645.7C899.0 649.3 893.8 653.0 892.0 654.5" fill="none" stroke="#7f97aa" stroke-width="12.0" stroke-linecap="butt" filter="url(#b4)" opacity="0.90"/>
<path d="M940.0 500.0C939.2 495.7 949.2 488.7 955.0 486.0C960.8 483.3 967.5 482.7 975.0 484.0C982.5 485.3 993.8 490.3 1000.0 494.0C1006.2 497.7 1012.0 501.7 1012.0 506.0C1012.0 510.3 1005.3 517.7 1000.0 520.0C994.7 522.3 986.7 521.3 980.0 520.0C973.3 518.7 966.7 515.3 960.0 512.0C953.3 508.7 940.8 504.3 940.0 500.0Z" fill="#8aa1b3" filter="url(#b5)" opacity="0.85"/>
<path d="M866.0 600.0C868.7 602.2 875.0 616.7 880.0 625.0C885.0 633.3 895.3 645.5 896.0 650.0C896.7 654.5 888.0 655.0 884.0 652.0C880.0 649.0 875.3 638.7 872.0 632.0C868.7 625.3 865.0 617.3 864.0 612.0C863.0 606.7 863.3 597.8 866.0 600.0Z" fill="#8199ad" filter="url(#b4)" opacity="0.90"/>
<path d="M871.0 530.0C870.3 535.0 867.3 550.0 867.0 560.0C866.7 570.0 867.8 580.0 869.0 590.0C870.2 600.0 871.3 610.8 874.0 620.0C876.7 629.2 883.2 640.8 885.0 645.0" fill="none" stroke="#94aabb" stroke-width="8.0" stroke-linecap="butt" filter="url(#b2_5)" opacity="0.80"/>
<rect x="850" y="470" width="180" height="200" filter="url(#blotchB)" opacity="0.5"/>
</g>
<path d="M863.0 540.0C863.8 534.0 865.5 529.7 867.0 526.0C868.5 522.3 868.9 520.2 872.0 518.0C875.1 515.8 880.2 513.7 885.7 513.0C891.2 512.3 899.3 513.7 905.0 514.0C910.7 514.3 915.3 515.8 920.0 515.0C924.7 514.2 929.7 511.5 933.0 509.0C936.3 506.5 937.9 503.0 940.0 500.0C942.1 497.0 943.4 493.5 945.7 491.0C948.0 488.5 949.8 486.1 954.0 485.0C958.2 483.9 965.2 483.8 971.0 484.5C976.8 485.2 983.2 486.8 988.6 489.0C994.0 491.2 999.7 495.5 1003.6 498.0C1007.5 500.5 1010.6 501.8 1012.0 504.0C1013.4 506.2 1012.7 508.8 1012.0 511.0C1011.3 513.2 1011.2 513.8 1008.0 517.0C1004.8 520.2 997.3 525.7 993.0 530.0C988.7 534.3 985.7 537.7 982.0 543.0C978.3 548.3 974.2 556.0 971.0 562.0C967.8 568.0 966.5 573.3 963.0 579.0C959.5 584.7 955.0 590.2 950.0 596.0C945.0 601.8 938.7 607.4 933.0 613.6C927.3 619.8 920.7 627.6 915.7 633.0C910.7 638.4 907.0 642.1 903.0 645.7C899.0 649.3 895.7 654.1 892.0 654.5C888.3 654.9 883.8 650.9 881.0 648.0C878.2 645.1 876.7 640.7 875.0 637.0C873.3 633.3 872.2 631.0 870.7 626.0C869.2 621.0 867.1 612.3 866.0 607.0C864.9 601.7 864.7 601.5 864.0 594.0C863.3 586.5 862.2 571.0 862.0 562.0C861.8 553.0 862.2 546.0 863.0 540.0Z" fill="none" stroke="#60798e" stroke-width="1.5" stroke-linecap="butt" opacity="0.90"/>
<path d="M866.5 536.0C866.1 540.3 864.1 552.3 864.0 562.0C863.9 571.7 864.7 583.3 866.0 594.0C867.3 604.7 869.4 617.3 872.0 626.0C874.6 634.7 879.9 642.7 881.5 646.0" fill="none" stroke="#dbe4ea" stroke-width="1.3" stroke-linecap="butt" filter="url(#b0_4)" opacity="0.90"/>
<g clip-path="url(#cSpine)">
<path d="M468.0 566.0C471.5 557.5 482.0 558.8 490.0 557.0C498.0 555.2 506.7 555.7 516.0 555.0C525.3 554.3 533.9 555.5 546.0 553.0C558.1 550.5 574.4 544.3 588.6 540.0C602.8 535.7 616.8 531.7 631.0 527.0C645.2 522.3 659.7 517.3 674.0 512.0C688.3 506.7 705.5 499.2 717.0 495.0C728.5 490.8 735.8 489.2 743.0 487.0C750.2 484.8 754.0 484.0 760.0 481.5C766.0 479.0 773.0 474.8 779.0 472.0C785.0 469.2 790.2 467.5 796.0 465.0C801.8 462.5 807.4 459.9 814.0 457.0C820.6 454.1 827.9 451.2 835.7 447.5C843.5 443.8 854.2 438.6 860.7 435.0C867.2 431.4 871.8 428.4 875.0 426.0C878.2 423.6 879.7 422.3 880.0 420.7C880.3 419.1 875.3 418.9 877.0 416.4C878.7 413.9 885.0 409.1 890.0 405.7C895.0 402.3 901.0 398.5 907.0 396.0C913.0 393.5 920.7 390.5 926.0 390.7C931.3 390.9 932.8 395.3 939.0 397.0C945.2 398.7 956.5 399.2 963.0 401.0C969.5 402.8 973.7 404.7 978.0 408.0C982.3 411.3 986.1 416.4 988.6 420.7C991.1 425.0 993.0 429.4 993.0 433.6C993.0 437.8 990.8 441.4 988.6 446.0C986.4 450.6 984.3 456.5 980.0 461.0C975.7 465.5 967.8 468.7 963.0 473.0C958.2 477.3 955.3 481.8 951.0 487.0C946.7 492.2 940.5 500.2 937.0 504.0C933.5 507.8 933.5 508.3 930.0 510.0C926.5 511.7 921.7 513.0 915.7 514.0C909.7 515.0 902.3 515.7 894.0 515.7C885.7 515.7 875.2 514.8 865.7 514.0C856.2 513.2 846.5 511.6 837.0 511.0C827.5 510.4 818.1 509.7 808.6 510.5C799.1 511.3 788.1 514.1 780.0 516.0C771.9 517.9 770.5 518.7 760.0 522.0C749.5 525.3 729.5 531.5 717.0 536.0C704.5 540.5 695.7 544.8 685.0 549.0C674.3 553.2 663.3 557.3 653.0 561.0C642.7 564.7 633.7 569.1 623.0 571.0C612.3 572.9 601.8 571.5 589.0 572.5C576.2 573.5 558.2 574.8 546.0 577.0C533.8 579.2 523.7 582.8 516.0 586.0C508.3 589.2 504.8 593.0 500.0 596.0C495.2 599.0 492.2 602.0 487.0 604.0C481.8 606.0 472.2 614.3 469.0 608.0C465.8 601.7 464.5 574.5 468.0 566.0Z" fill="#dfd3cc" opacity="1.00"/>
<path d="M600.0 566.0C607.0 563.0 631.5 561.2 642.0 558.0C652.5 554.8 654.0 550.8 663.0 547.0C672.0 543.2 685.2 539.2 696.0 535.0C706.8 530.8 717.3 525.0 728.0 522.0C738.7 519.0 749.7 518.7 760.0 517.0C770.3 515.3 785.0 511.5 790.0 512.0C795.0 512.5 795.0 517.7 790.0 520.0C785.0 522.3 772.2 522.7 760.0 526.0C747.8 529.3 729.5 535.5 717.0 540.0C704.5 544.5 695.7 548.8 685.0 553.0C674.3 557.2 663.3 561.3 653.0 565.0C642.7 568.7 631.8 573.2 623.0 575.0C614.2 576.8 603.8 577.5 600.0 576.0C596.2 574.5 593.0 569.0 600.0 566.0Z" fill="#c6b7ae" filter="url(#b2)" opacity="0.90"/>
<path d="M750.0 508.0C754.2 503.1 770.2 500.7 780.0 498.6C789.8 496.6 799.1 497.6 808.6 495.7C818.1 493.8 827.5 489.4 837.0 487.0C846.5 484.6 858.5 483.3 865.7 481.0C872.9 478.7 872.9 476.3 880.0 473.0C887.1 469.7 899.1 463.4 908.6 461.0C918.1 458.6 929.3 458.1 937.0 458.6C944.7 459.1 948.7 463.4 955.0 464.0C961.3 464.6 969.2 463.5 975.0 462.0C980.8 460.5 988.3 452.8 990.0 455.0C991.7 457.2 991.5 468.8 985.0 475.0C978.5 481.2 959.0 486.2 951.0 492.0C943.0 497.8 943.0 505.3 937.0 510.0C931.0 514.7 927.0 518.3 915.0 520.0C903.0 521.7 882.8 520.7 865.0 520.0C847.2 519.3 822.2 515.8 808.0 516.0C793.8 516.2 788.8 519.0 780.0 521.0C771.2 523.0 760.0 530.2 755.0 528.0C750.0 525.8 745.8 512.9 750.0 508.0Z" fill="#8e7f77" filter="url(#b2_5)" opacity="1.00"/>
<path d="M765.0 514.0C769.8 511.2 796.6 506.3 808.6 504.0C820.6 501.7 827.5 501.0 837.0 500.0C846.5 499.0 856.2 498.5 865.7 498.0C875.2 497.5 885.0 498.3 894.0 497.0C903.0 495.7 911.5 493.5 920.0 490.0C928.5 486.5 937.5 479.3 945.0 476.0C952.5 472.7 964.0 467.3 965.0 470.0C966.0 472.7 955.7 485.3 951.0 492.0C946.3 498.7 943.0 505.3 937.0 510.0C931.0 514.7 927.0 518.3 915.0 520.0C903.0 521.7 882.8 520.7 865.0 520.0C847.2 519.3 822.2 515.8 808.0 516.0C793.8 516.2 787.2 521.3 780.0 521.0C772.8 520.7 760.2 516.8 765.0 514.0Z" fill="#776861" filter="url(#b2_5)" opacity="1.00"/>
<path d="M765.0 521.0C772.3 519.5 796.6 513.5 808.6 512.0C820.6 510.5 827.5 511.5 837.0 512.0C846.5 512.5 856.2 514.2 865.7 515.0C875.2 515.8 885.7 516.7 894.0 516.7C902.3 516.7 909.7 516.0 915.7 515.0C921.7 514.0 926.0 513.3 930.0 511.0C934.0 508.7 936.5 504.8 940.0 501.0C943.5 497.2 949.2 490.2 951.0 488.0" fill="none" stroke="#4d423d" stroke-width="11.0" stroke-linecap="butt" filter="url(#b2_5)" opacity="0.95"/>
<path d="M790.0 508.0L793.1 508.8L797.1 508.9L801.8 508.9L807.1 508.8L812.7 508.6L818.6 508.3L824.4 508.1L830.1 507.9L835.4 507.7L840.1 507.7L844.4 507.7L848.6 507.8L852.6 508.0L856.5 508.2L860.4 508.4L864.3 508.6L868.1 508.7L872.0 508.8L876.0 508.8L880.0 508.7L884.3 508.4L888.8 508.1L893.4 507.7L898.1 507.2L902.7 506.7L907.0 506.1L911.1 505.5L914.7 504.9L917.7 504.2L920.0 503.0L920.0 503.0L917.6 502.1L914.5 501.8L910.8 501.6L906.7 501.5L902.3 501.4L897.8 501.4L893.1 501.4L888.5 501.4L884.1 501.4L880.0 501.3L876.1 501.2L872.3 501.0L868.5 500.8L864.7 500.6L860.8 500.4L856.9 500.2L852.9 500.1L848.7 500.0L844.4 500.1L839.9 500.3L835.0 500.7L829.6 501.2L823.9 501.8L818.1 502.5L812.3 503.3L806.7 504.1L801.5 505.0L796.8 505.8L792.9 506.7L790.0 508.0Z" fill="#4d423d" filter="url(#b2_5)" opacity="0.70"/>
<path d="M870.0 470.0C876.7 459.7 890.0 455.7 900.0 450.0C910.0 444.3 920.0 441.0 930.0 436.0C940.0 431.0 950.8 424.3 960.0 420.0C969.2 415.7 979.2 407.8 985.0 410.0C990.8 412.2 995.0 425.5 995.0 433.0C995.0 440.5 990.8 447.5 985.0 455.0C979.2 462.5 967.5 470.5 960.0 478.0C952.5 485.5 950.0 494.3 940.0 500.0C930.0 505.7 913.3 510.0 900.0 512.0C886.7 514.0 865.0 519.0 860.0 512.0C855.0 505.0 863.3 480.3 870.0 470.0Z" fill="#c6b7ae" filter="url(#b6)" opacity="0.85"/>
<path d="M925.0 452.0C930.0 447.0 943.7 443.7 952.0 438.0C960.3 432.3 969.0 423.0 975.0 418.0C981.0 413.0 984.3 405.5 988.0 408.0C991.7 410.5 996.7 426.3 997.0 433.0C997.3 439.7 992.8 443.3 990.0 448.0C987.2 452.7 984.5 456.8 980.0 461.0C975.5 465.2 967.8 468.7 963.0 473.0C958.2 477.3 954.8 485.8 951.0 487.0C947.2 488.2 944.8 483.2 940.0 480.0C935.2 476.8 924.5 472.7 922.0 468.0C919.5 463.3 920.0 457.0 925.0 452.0Z" fill="#ab9b93" filter="url(#b3)" opacity="1.00"/>
<path d="M945.0 466.0C947.0 459.5 956.5 454.3 962.0 450.0C967.5 445.7 973.0 443.0 978.0 440.0C983.0 437.0 990.0 430.3 992.0 432.0C994.0 433.7 992.3 444.8 990.0 450.0C987.7 455.2 982.7 458.7 978.0 463.0C973.3 467.3 966.7 471.7 962.0 476.0C957.3 480.3 952.8 490.7 950.0 489.0C947.2 487.3 943.0 472.5 945.0 466.0Z" fill="#8e7f77" filter="url(#b2_5)" opacity="1.00"/>
<path d="M952.0 472.0C953.7 467.8 964.3 459.3 970.0 455.0C975.7 450.7 984.8 444.3 986.0 446.0C987.2 447.7 981.3 459.3 977.0 465.0C972.7 470.7 964.2 478.8 960.0 480.0C955.8 481.2 950.3 476.2 952.0 472.0Z" fill="#776861" filter="url(#b2)" opacity="0.95"/>
<path d="M975.0 406.0C978.0 406.7 986.5 413.0 990.0 418.0C993.5 423.0 995.8 431.0 996.0 436.0C996.2 441.0 993.3 449.0 991.0 448.0C988.7 447.0 985.2 435.7 982.0 430.0C978.8 424.3 973.2 418.0 972.0 414.0C970.8 410.0 972.0 405.3 975.0 406.0Z" fill="#8e7f77" filter="url(#b2_5)" opacity="0.80"/>
<path d="M895.0 472.0C900.5 467.8 916.2 460.7 925.0 460.0C933.8 459.3 945.8 463.7 948.0 468.0C950.2 472.3 944.3 482.0 938.0 486.0C931.7 490.0 917.7 492.2 910.0 492.0C902.3 491.8 894.5 488.3 892.0 485.0C889.5 481.7 889.5 476.2 895.0 472.0Z" fill="#8e7f77" filter="url(#b3)" opacity="0.80"/>
<path d="M880.0 436.0C881.2 429.7 896.7 422.3 905.0 418.0C913.3 413.7 922.8 410.0 930.0 410.0C937.2 410.0 948.0 413.7 948.0 418.0C948.0 422.3 938.3 429.7 930.0 436.0C921.7 442.3 906.3 456.0 898.0 456.0C889.7 456.0 878.8 442.3 880.0 436.0Z" fill="#ebe2dc" filter="url(#b5)" opacity="0.80"/>
<path d="M930.0 398.0C934.2 397.0 947.5 398.0 955.0 400.0C962.5 402.0 972.5 407.0 975.0 410.0C977.5 413.0 974.2 417.7 970.0 418.0C965.8 418.3 956.7 414.0 950.0 412.0C943.3 410.0 933.3 408.3 930.0 406.0C926.7 403.7 925.8 399.0 930.0 398.0Z" fill="#d0c2ba" filter="url(#b3)" opacity="0.70"/>
<path d="M885.0 466.0L887.4 466.3L889.8 465.7L892.3 464.6L895.1 463.2L897.9 461.7L900.9 460.1L903.8 458.5L906.7 457.0L909.4 455.7L911.9 454.6L914.4 453.7L917.4 452.8L920.5 451.8L923.9 450.9L927.2 450.0L930.5 449.1L933.5 448.1L936.2 447.1L938.4 445.9L940.0 444.0L940.0 444.0L937.9 442.7L935.5 442.2L932.6 442.0L929.4 441.9L925.9 442.0L922.3 442.3L918.6 442.7L915.0 443.4L911.4 444.2L908.1 445.4L905.0 446.8L901.9 448.6L898.9 450.6L896.0 452.8L893.3 455.0L890.8 457.3L888.7 459.5L886.9 461.7L885.5 463.7L885.0 466.0Z" fill="#c6b7ae" filter="url(#b3)" opacity="0.70"/>
<path d="M860.0 462.0L862.3 462.2L864.9 461.6L867.9 460.6L871.2 459.4L874.7 458.1L878.2 456.6L881.8 455.2L885.2 453.7L888.4 452.4L891.3 451.2L894.0 450.2L896.8 449.1L899.7 448.0L902.5 446.9L905.2 445.8L907.8 444.8L910.1 443.7L912.2 442.7L913.9 441.6L915.0 440.0L915.0 440.0L913.2 439.3L911.2 439.3L908.9 439.5L906.3 439.9L903.6 440.4L900.6 441.0L897.6 441.8L894.6 442.7L891.6 443.7L888.7 444.8L885.7 446.0L882.5 447.5L879.1 449.2L875.6 451.1L872.2 452.9L869.0 454.8L866.0 456.7L863.4 458.4L861.3 460.1L860.0 462.0Z" fill="#c6b7ae" filter="url(#b3)" opacity="0.50"/>
<g clip-path="url(#cAcrD)"><rect x="760" y="390" width="250" height="140" filter="url(#blotchD)" opacity="0.75"/></g>
<path d="M497.0 598.0C500.2 595.8 507.8 588.7 516.0 585.0C524.2 581.3 533.8 578.3 546.0 576.0C558.2 573.7 578.0 572.3 589.0 571.0C600.0 569.7 608.2 568.5 612.0 568.0" fill="none" stroke="#d0c2ba" stroke-width="6.0" stroke-linecap="butt" filter="url(#b2)" opacity="0.90"/>
<path d="M470.0 590.0C475.0 587.7 488.3 580.0 500.0 576.0C511.7 572.0 533.3 567.7 540.0 566.0" fill="none" stroke="#d0c2ba" stroke-width="9.0" stroke-linecap="butt" filter="url(#b4)" opacity="0.50"/>
<path d="M520.0 562.0C531.3 559.7 569.5 552.5 588.0 548.0C606.5 543.5 616.7 539.7 631.0 535.0C645.3 530.3 659.7 525.3 674.0 520.0C688.3 514.7 702.7 508.2 717.0 503.0C731.3 497.8 746.2 494.2 760.0 489.0C773.8 483.8 787.3 477.5 800.0 472.0C812.7 466.5 824.2 462.0 836.0 456.0C847.8 450.0 865.2 439.3 871.0 436.0" fill="none" stroke="#ebe2dc" stroke-width="9.0" stroke-linecap="butt" filter="url(#b2)" opacity="0.95"/>
<path d="M700.0 525.0L702.7 525.3L706.0 524.9L709.8 524.1L713.9 523.2L718.4 522.1L723.1 520.9L727.8 519.6L732.5 518.3L737.0 517.1L741.2 515.9L745.3 514.8L749.3 513.7L753.3 512.5L757.3 511.3L761.3 510.1L765.3 508.9L769.3 507.7L773.2 506.5L777.2 505.2L781.1 504.0L785.2 502.7L789.6 501.4L794.1 500.0L798.7 498.6L803.2 497.1L807.5 495.7L811.5 494.4L815.0 493.0L817.9 491.7L820.0 490.0L820.0 490.0L817.3 489.5L814.1 489.6L810.4 490.0L806.3 490.6L801.8 491.4L797.1 492.2L792.4 493.1L787.7 494.1L783.2 495.0L778.9 496.0L774.8 497.0L770.8 498.1L766.7 499.2L762.7 500.3L758.7 501.5L754.7 502.7L750.7 504.0L746.7 505.3L742.7 506.7L738.8 508.1L734.6 509.5L730.2 511.2L725.6 512.9L721.1 514.6L716.6 516.4L712.3 518.2L708.4 519.9L704.9 521.6L702.0 523.1L700.0 525.0Z" fill="#d0c2ba" filter="url(#b3)" opacity="0.70"/>
</g>
<path d="M928.2 388.5L927.3 388.2L926.2 388.1L925.0 388.1L923.6 388.3L922.1 388.5L920.5 388.8L918.9 389.2L917.2 389.6L915.6 390.0L913.9 390.5L912.3 391.0L910.6 391.6L908.9 392.2L907.1 392.8L905.2 393.5L903.4 394.2L901.5 394.9L899.7 395.7L898.0 396.6L896.3 397.4L894.7 398.3L893.2 399.3L891.7 400.3L890.3 401.3L889.0 402.3L887.6 403.4L886.4 404.4L885.2 405.5L884.0 406.6L882.9 407.7L881.8 408.8L880.7 410.1L879.6 411.3L878.6 412.6L877.7 413.9L876.9 415.1L876.2 416.3L875.6 417.4L875.3 418.3L875.2 419.3L876.8 420.7L877.8 420.5L878.7 419.9L879.7 419.2L880.6 418.3L881.7 417.3L882.8 416.3L883.8 415.2L884.9 414.2L886.0 413.2L887.1 412.3L888.2 411.5L889.4 410.5L890.6 409.6L891.8 408.7L893.0 407.8L894.3 406.9L895.6 406.0L896.9 405.2L898.3 404.4L899.7 403.6L901.1 402.8L902.7 402.1L904.3 401.3L906.0 400.6L907.7 399.8L909.5 399.1L911.2 398.4L912.9 397.8L914.5 397.1L916.1 396.5L917.5 395.9L919.0 395.3L920.6 394.7L922.1 394.1L923.5 393.6L924.9 393.0L926.1 392.5L927.2 391.9L928.2 391.3L928.8 390.5Z" fill="#6c7d88" filter="url(#b0_5)" opacity="1.00"/>
<g clip-path="url(#cSpine)"><rect x="340" y="370" width="760" height="660" filter="url(#grain)"/></g></g>
<mask id="wmM" maskUnits="userSpaceOnUse" x="0" y="0" width="1400" height="1400"><g transform="rotate(-30)" font-family="Liberation Sans, sans-serif" font-size="52" fill="#fff" stroke="#000" stroke-width="1.1">
<text x="-1042.8" y="54.9" textLength="3084.0" lengthAdjust="spacing" xml:space="preserve">© www.kenhub.com © www.kenhub.com © www.kenhub.com © www.kenhub.com © www.kenhub.com © www.kenhub.com </text>
<text x="-1299.8" y="175.7" textLength="3598.0" lengthAdjust="spacing" xml:space="preserve">© www.kenhub.com © www.kenhub.com © www.kenhub.com © www.kenhub.com © www.kenhub.com © www.kenhub.com © www.kenhub.com </text>
<text x="-1042.8" y="296.5" textLength="3084.0" lengthAdjust="spacing" xml:space="preserve">© www.kenhub.com © www.kenhub.com © www.kenhub.com © www.kenhub.com © www.kenhub.com © www.kenhub.com </text>
<text x="-1299.8" y="417.3" textLength="3598.0" lengthAdjust="spacing" xml:space="preserve">© www.kenhub.com © www.kenhub.com © www.kenhub.com © www.kenhub.com © www.kenhub.com © www.kenhub.com © www.kenhub.com </text>
<text x="-1042.8" y="538.1" textLength="3084.0" lengthAdjust="spacing" xml:space="preserve">© www.kenhub.com © www.kenhub.com © www.kenhub.com © www.kenhub.com © www.kenhub.com © www.kenhub.com </text>
<text x="-1299.8" y="658.9" textLength="3598.0" lengthAdjust="spacing" xml:space="preserve">© www.kenhub.com © www.kenhub.com © www.kenhub.com © www.kenhub.com © www.kenhub.com © www.kenhub.com © www.kenhub.com </text>
<text x="-1042.8" y="779.7" textLength="3084.0" lengthAdjust="spacing" xml:space="preserve">© www.kenhub.com © www.kenhub.com © www.kenhub.com © www.kenhub.com © www.kenhub.com © www.kenhub.com </text>
<text x="-1299.8" y="900.5" textLength="3598.0" lengthAdjust="spacing" xml:space="preserve">© www.kenhub.com © www.kenhub.com © www.kenhub.com © www.kenhub.com © www.kenhub.com © www.kenhub.com © www.kenhub.com </text>
<text x="-1042.8" y="1021.3" textLength="3084.0" lengthAdjust="spacing" xml:space="preserve">© www.kenhub.com © www.kenhub.com © www.kenhub.com © www.kenhub.com © www.kenhub.com © www.kenhub.com </text>
<text x="-1299.8" y="1142.1" textLength="3598.0" lengthAdjust="spacing" xml:space="preserve">© www.kenhub.com © www.kenhub.com © www.kenhub.com © www.kenhub.com © www.kenhub.com © www.kenhub.com © www.kenhub.com </text>
<text x="-1042.8" y="1262.9" textLength="3084.0" lengthAdjust="spacing" xml:space="preserve">© www.kenhub.com © www.kenhub.com © www.kenhub.com © www.kenhub.com © www.kenhub.com © www.kenhub.com </text>
<text x="-1299.8" y="1383.7" textLength="3598.0" lengthAdjust="spacing" xml:space="preserve">© www.kenhub.com © www.kenhub.com © www.kenhub.com © www.kenhub.com © www.kenhub.com © www.kenhub.com © www.kenhub.com </text>
<text x="-1042.8" y="1504.5" textLength="3084.0" lengthAdjust="spacing" xml:space="preserve">© www.kenhub.com © www.kenhub.com © www.kenhub.com © www.kenhub.com © www.kenhub.com © www.kenhub.com </text>
<text x="-1299.8" y="1625.3" textLength="3598.0" lengthAdjust="spacing" xml:space="preserve">© www.kenhub.com © www.kenhub.com © www.kenhub.com © www.kenhub.com © www.kenhub.com © www.kenhub.com © www.kenhub.com </text>
<text x="-1042.8" y="1746.1" textLength="3084.0" lengthAdjust="spacing" xml:space="preserve">© www.kenhub.com © www.kenhub.com © www.kenhub.com © www.kenhub.com © www.kenhub.com © www.kenhub.com </text>
<text x="-1299.8" y="1866.9" textLength="3598.0" lengthAdjust="spacing" xml:space="preserve">© www.kenhub.com © www.kenhub.com © www.kenhub.com © www.kenhub.com © www.kenhub.com © www.kenhub.com © www.kenhub.com </text>
<text x="-1042.8" y="1987.7" textLength="3084.0" lengthAdjust="spacing" xml:space="preserve">© www.kenhub.com © www.kenhub.com © www.kenhub.com © www.kenhub.com © www.kenhub.com © www.kenhub.com </text>
</g></mask><rect width="1400" height="1400" fill="#808080" fill-opacity="0.27" mask="url(#wmM)"/>
<g stroke="#222" stroke-width="1" fill="none">
<line x1="496.5" y1="198.5" x2="623.0" y2="438.5"/>
<line x1="760.0" y1="198.6" x2="720.7" y2="482.0"/>
<line x1="320.0" y1="302.5" x2="541.7" y2="406.7"/>
<line x1="978.6" y1="290.7" x2="768.6" y2="453.0"/>
<line x1="1041.0" y1="366.0" x2="951.0" y2="426.4"/>
<line x1="317.0" y1="440.0" x2="571.8" y2="518.6"/>
<line x1="1050.0" y1="467.5" x2="823.6" y2="532.0"/>
<line x1="296.0" y1="628.6" x2="491.8" y2="571.8"/>
<line x1="1059.0" y1="632.0" x2="847.5" y2="568.0"/>
<line x1="336.0" y1="789.0" x2="621.8" y2="694.0"/>
<line x1="1001.0" y1="803.0" x2="740.0" y2="510.4"/>
<line x1="348.0" y1="918.0" x2="497.0" y2="847.5"/>
<line x1="937.0" y1="943.6" x2="622.0" y2="561.5"/>
<line x1="853.6" y1="1087.0" x2="725.5" y2="845.0"/>
<line x1="481.4" y1="1141.0" x2="585.7" y2="993.0"/>
</g><g fill="#111">
<circle cx="623.0" cy="438.5" r="2.6"/>
<circle cx="720.7" cy="482.0" r="2.6"/>
<circle cx="541.7" cy="406.7" r="2.6"/>
<circle cx="768.6" cy="453.0" r="2.6"/>
<circle cx="951.0" cy="426.4" r="2.6"/>
<circle cx="571.8" cy="518.6" r="2.6"/>
<circle cx="823.6" cy="532.0" r="2.6"/>
<circle cx="491.8" cy="571.8" r="2.6"/>
<circle cx="847.5" cy="568.0" r="2.6"/>
<circle cx="621.8" cy="694.0" r="2.6"/>
<circle cx="740.0" cy="510.4" r="2.6"/>
<circle cx="497.0" cy="847.5" r="2.6"/>
<circle cx="622.0" cy="561.5" r="2.6"/>
<circle cx="725.5" cy="845.0" r="2.6"/>
<circle cx="585.7" cy="993.0" r="2.6"/>
</g>
<g font-family="Liberation Sans, sans-serif" font-size="27" fill="#111" stroke="#fff" stroke-width="0.45" paint-order="fill">
<text x="262.5" y="191.5" textLength="230.5" lengthAdjust="spacingAndGlyphs">Superior border</text>
<text x="764.5" y="191.5" textLength="216.5" lengthAdjust="spacingAndGlyphs">Scapular notch</text>
<text x="92.5" y="310.0" textLength="210.0" lengthAdjust="spacingAndGlyphs">Superior angle</text>
<text x="991.5" y="289.0" textLength="250.5" lengthAdjust="spacingAndGlyphs">Coracoid process</text>
<text x="1053.1" y="364.6" textLength="141.9" lengthAdjust="spacingAndGlyphs">Acromion</text>
<text x="21.5" y="443.6" textLength="278.5" lengthAdjust="spacingAndGlyphs">Supraspinous fossa</text>
<text x="1056.5" y="473.0" textLength="283.1" lengthAdjust="spacingAndGlyphs">Spinoglenoid notch</text>
<text x="84.5" y="618.6" textLength="192.5" lengthAdjust="spacingAndGlyphs">Root of spine</text>
<text x="128.5" y="653.0" textLength="148.5" lengthAdjust="spacingAndGlyphs">of scapula</text>
<text x="1079.2" y="645.0" textLength="226.8" lengthAdjust="spacingAndGlyphs">Neck of scapula</text>
<text x="61.0" y="793.0" textLength="263.0" lengthAdjust="spacingAndGlyphs">Infraspinous fossa</text>
<text x="1019.2" y="819.0" textLength="232.8" lengthAdjust="spacingAndGlyphs">Spine of scapula</text>
<text x="139.5" y="928.6" textLength="199.0" lengthAdjust="spacingAndGlyphs">Medial border</text>
<text x="946.5" y="967.0" textLength="235.5" lengthAdjust="spacingAndGlyphs">Deltoid tubercle</text>
<text x="861.5" y="1098.0" textLength="206.5" lengthAdjust="spacingAndGlyphs">Lateral border</text>
<text x="277.1" y="1162.5" textLength="193.9" lengthAdjust="spacingAndGlyphs">Inferior angle</text>
</g>

<rect x="1332" y="1331" width="58" height="58" rx="2.5" fill="#1a9cfc"/>
<g font-family="Liberation Sans, sans-serif" font-weight="bold" font-size="12.5" fill="#fff">
<text x="1345" y="1357.5" textLength="32" lengthAdjust="spacing">KEN</text>
<text x="1345" y="1373" textLength="32" lengthAdjust="spacing">HUB</text></g>
<text x="1190" y="1388.5" font-family="Liberation Sans, sans-serif" font-weight="bold" font-size="10.5" fill="#9a9fa6" textLength="128" lengthAdjust="spacingAndGlyphs">© www.kenhub.com</text>

</svg></body></html>
